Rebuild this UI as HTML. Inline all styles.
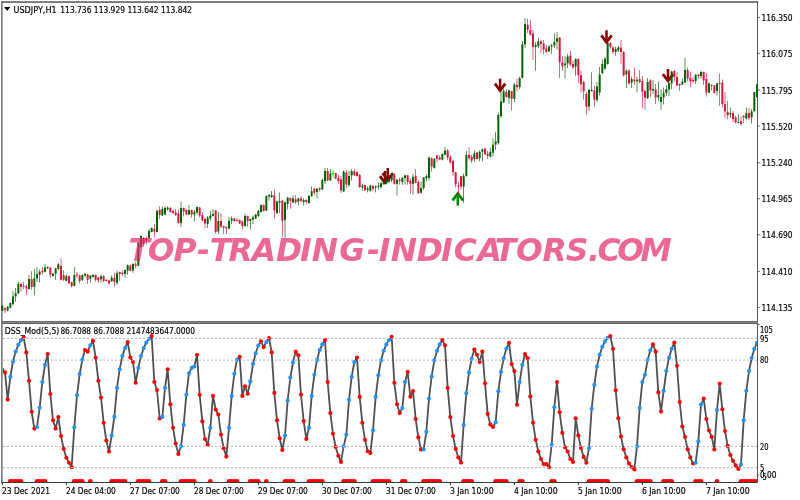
<!DOCTYPE html>
<html><head><meta charset="utf-8"><title>USDJPY,H1 DSS_Mod</title>
<style>
html,body{margin:0;padding:0;background:#fff;}
svg{display:block;}
.lb text{font-family:'DejaVu Sans', 'Liberation Sans', sans-serif;font-size:8.3px;fill:#000;stroke:#000;stroke-width:0.18px;}
.wm text{font-family:'DejaVu Sans',sans-serif;font-weight:bold;font-style:italic;font-size:32.6px;fill:#E12769;fill-opacity:0.7;}
</style></head>
<body>
<svg width="800" height="500" viewBox="0 0 800 500">
<defs>
<clipPath id="mc"><rect x="2" y="3" width="755" height="318"/></clipPath>
<clipPath id="mc2"><rect x="1" y="3" width="757.5" height="318"/></clipPath>
<clipPath id="dc"><circle cx="13.00" cy="361.5" r="2.05"/><circle cx="21.00" cy="340.1" r="2.05"/><circle cx="23.67" cy="337.5" r="2.05"/><circle cx="71.67" cy="467.3" r="2.05"/><circle cx="82.33" cy="359.6" r="2.05"/><circle cx="133.00" cy="362.0" r="2.05"/><circle cx="149.00" cy="338.8" r="2.05"/><circle cx="181.00" cy="446.2" r="2.05"/><circle cx="207.67" cy="444.9" r="2.05"/><circle cx="223.67" cy="448.3" r="2.05"/><circle cx="237.00" cy="359.6" r="2.05"/><circle cx="269.00" cy="338.0" r="2.05"/><circle cx="293.00" cy="362.3" r="2.05"/><circle cx="317.00" cy="359.9" r="2.05"/><circle cx="325.00" cy="339.9" r="2.05"/><circle cx="335.67" cy="447.0" r="2.05"/><circle cx="343.67" cy="446.2" r="2.05"/><circle cx="354.33" cy="362.0" r="2.05"/><circle cx="381.00" cy="360.2" r="2.05"/><circle cx="389.00" cy="339.9" r="2.05"/><circle cx="391.67" cy="336.7" r="2.05"/><circle cx="434.33" cy="360.4" r="2.05"/><circle cx="442.33" cy="340.1" r="2.05"/><circle cx="471.67" cy="358.8" r="2.05"/><circle cx="479.67" cy="362.0" r="2.05"/><circle cx="503.67" cy="358.3" r="2.05"/><circle cx="527.67" cy="358.3" r="2.05"/><circle cx="549.00" cy="467.3" r="2.05"/><circle cx="551.67" cy="444.9" r="2.05"/><circle cx="565.00" cy="447.3" r="2.05"/><circle cx="581.00" cy="448.1" r="2.05"/><circle cx="589.00" cy="448.1" r="2.05"/><circle cx="607.67" cy="337.7" r="2.05"/><circle cx="631.67" cy="467.0" r="2.05"/><circle cx="634.33" cy="469.4" r="2.05"/><circle cx="637.00" cy="446.2" r="2.05"/><circle cx="647.67" cy="359.9" r="2.05"/><circle cx="727.67" cy="445.9" r="2.05"/><circle cx="738.33" cy="468.9" r="2.05"/><circle cx="751.67" cy="358.0" r="2.05"/></clipPath>
<clipPath id="ic"><rect x="3" y="324" width="754" height="158"/></clipPath>
</defs>
<rect x="0" y="0" width="800" height="500" fill="#fff"/>
<rect x="1" y="1" width="757" height="1" fill="#848484"/>
<rect x="1" y="2" width="757" height="1" fill="#7a7a7a"/>
<rect x="1" y="1" width="1" height="482" fill="#7a7a7a"/>
<rect x="2" y="3" width="1" height="479" fill="#ababab"/>
<rect x="1" y="321" width="757" height="1" fill="#666"/>
<rect x="1" y="322" width="757" height="1" fill="#8c8c8c"/>
<rect x="1" y="323" width="757" height="1" fill="#5a5a5a"/>
<rect x="1" y="482" width="757" height="1" fill="#3a3a3a"/>
<rect x="757" y="1" width="1" height="321" fill="#555"/>
<rect x="757" y="323" width="1" height="160" fill="#555"/>
<rect x="758" y="16.9" width="1.6" height="1" fill="#444"/>
<rect x="758" y="52.9" width="1.6" height="1" fill="#444"/>
<rect x="758" y="89.6" width="1.6" height="1" fill="#444"/>
<rect x="758" y="125.6" width="1.6" height="1" fill="#444"/>
<rect x="758" y="162.2" width="1.6" height="1" fill="#444"/>
<rect x="758" y="198.2" width="1.6" height="1" fill="#444"/>
<rect x="758" y="234.2" width="1.6" height="1" fill="#444"/>
<rect x="758" y="270.9" width="1.6" height="1" fill="#444"/>
<rect x="758" y="306.9" width="1.6" height="1" fill="#444"/>
<rect x="758" y="323.9" width="1.5" height="1" fill="#555"/>
<rect x="758" y="474.5" width="1.2" height="1" fill="#666"/>
<rect x="1.83" y="483" width="1" height="2" fill="#222"/>
<rect x="65.83" y="483" width="1" height="2" fill="#222"/>
<rect x="129.83" y="483" width="1" height="2" fill="#222"/>
<rect x="193.83" y="483" width="1" height="2" fill="#222"/>
<rect x="257.83" y="483" width="1" height="2" fill="#222"/>
<rect x="321.83" y="483" width="1" height="2" fill="#222"/>
<rect x="385.83" y="483" width="1" height="2" fill="#222"/>
<rect x="449.83" y="483" width="1" height="2" fill="#222"/>
<rect x="513.83" y="483" width="1" height="2" fill="#222"/>
<rect x="577.83" y="483" width="1" height="2" fill="#222"/>
<rect x="641.83" y="483" width="1" height="2" fill="#222"/>
<rect x="705.83" y="483" width="1" height="2" fill="#222"/>
<path d="M4.1 7.1 L10.3 7.1 L7.2 11.1 Z" fill="#000"/>
<g clip-path="url(#mc)">
<line x1="385.10" y1="171.00" x2="385.10" y2="182.90" stroke="#8B0000" stroke-width="2.5"/>
<polyline points="379.90,176.10 385.10,182.80 390.30,176.10" fill="none" stroke="#8B0000" stroke-width="2.8" stroke-linejoin="miter" stroke-miterlimit="10"/>
<line x1="387.80" y1="168.00" x2="387.80" y2="179.90" stroke="#8B0000" stroke-width="2.5"/>
<polyline points="382.60,173.10 387.80,179.80 393.00,173.10" fill="none" stroke="#8B0000" stroke-width="2.8" stroke-linejoin="miter" stroke-miterlimit="10"/>
<line x1="500.10" y1="78.60" x2="500.10" y2="90.50" stroke="#8B0000" stroke-width="2.5"/>
<polyline points="494.90,83.70 500.10,90.40 505.30,83.70" fill="none" stroke="#8B0000" stroke-width="2.8" stroke-linejoin="miter" stroke-miterlimit="10"/>
<line x1="606.50" y1="30.30" x2="606.50" y2="42.20" stroke="#8B0000" stroke-width="2.5"/>
<polyline points="601.30,35.40 606.50,42.10 611.70,35.40" fill="none" stroke="#8B0000" stroke-width="2.8" stroke-linejoin="miter" stroke-miterlimit="10"/>
<line x1="668.00" y1="69.00" x2="668.00" y2="80.90" stroke="#8B0000" stroke-width="2.5"/>
<polyline points="662.80,74.10 668.00,80.80 673.20,74.10" fill="none" stroke="#8B0000" stroke-width="2.8" stroke-linejoin="miter" stroke-miterlimit="10"/>
<line x1="457.80" y1="193.50" x2="457.80" y2="205.60" stroke="#008800" stroke-width="2.5"/>
<polyline points="452.50,200.50 457.80,193.60 463.10,200.50" fill="none" stroke="#008800" stroke-width="2.8" stroke-linejoin="miter" stroke-miterlimit="10"/>
</g>
<g clip-path="url(#mc2)">
<rect x="2.00" y="304.8" width="0.667" height="6.6" fill="#006400"/>
<rect x="1.33" y="306.0" width="2.0" height="4.8" fill="#006400"/>
<rect x="4.67" y="307.2" width="0.667" height="6.0" fill="#DC143C"/>
<rect x="4.00" y="308.4" width="2.0" height="1.8" fill="#DC143C"/>
<rect x="7.33" y="306.0" width="0.667" height="5.4" fill="#006400"/>
<rect x="6.67" y="306.8" width="2.0" height="3.6" fill="#006400"/>
<rect x="10.00" y="302.4" width="0.667" height="6.0" fill="#006400"/>
<rect x="9.33" y="303.0" width="2.0" height="4.8" fill="#006400"/>
<rect x="12.67" y="291.0" width="0.667" height="14.4" fill="#006400"/>
<rect x="12.00" y="296.4" width="2.0" height="7.8" fill="#006400"/>
<rect x="15.33" y="288.0" width="0.667" height="13.8" fill="#006400"/>
<rect x="14.67" y="293.4" width="2.0" height="3.0" fill="#006400"/>
<rect x="18.00" y="281.4" width="0.667" height="12.6" fill="#006400"/>
<rect x="17.33" y="283.8" width="2.0" height="9.6" fill="#006400"/>
<rect x="20.67" y="282.6" width="0.667" height="9.0" fill="#DC143C"/>
<rect x="20.00" y="283.8" width="2.0" height="3.0" fill="#DC143C"/>
<rect x="23.33" y="282.0" width="0.667" height="7.2" fill="#DC143C"/>
<rect x="22.67" y="285.6" width="2.0" height="1.2" fill="#DC143C"/>
<rect x="26.00" y="284.4" width="0.667" height="10.2" fill="#DC143C"/>
<rect x="25.33" y="286.4" width="2.0" height="2.2" fill="#DC143C"/>
<rect x="28.67" y="274.8" width="0.667" height="14.4" fill="#006400"/>
<rect x="28.00" y="279.0" width="2.0" height="10.2" fill="#006400"/>
<rect x="31.33" y="271.2" width="0.667" height="18.6" fill="#DC143C"/>
<rect x="30.67" y="279.0" width="2.0" height="7.8" fill="#DC143C"/>
<rect x="34.00" y="268.8" width="0.667" height="26.4" fill="#006400"/>
<rect x="33.33" y="278.4" width="2.0" height="8.4" fill="#006400"/>
<rect x="36.67" y="267.0" width="0.667" height="15.0" fill="#006400"/>
<rect x="36.00" y="274.2" width="2.0" height="4.2" fill="#006400"/>
<rect x="39.33" y="269.4" width="0.667" height="13.2" fill="#006400"/>
<rect x="38.67" y="271.8" width="2.0" height="3.0" fill="#006400"/>
<rect x="42.00" y="267.0" width="0.667" height="7.8" fill="#DC143C"/>
<rect x="41.33" y="270.6" width="2.0" height="1.8" fill="#DC143C"/>
<rect x="44.67" y="264.0" width="0.667" height="8.4" fill="#006400"/>
<rect x="44.00" y="267.6" width="2.0" height="4.2" fill="#006400"/>
<rect x="47.33" y="266.4" width="0.667" height="2.4" fill="#006400"/>
<rect x="46.67" y="267.0" width="2.0" height="1.2" fill="#006400"/>
<rect x="50.00" y="267.0" width="0.667" height="10.8" fill="#DC143C"/>
<rect x="49.33" y="267.6" width="2.0" height="7.2" fill="#DC143C"/>
<rect x="52.67" y="273.0" width="0.667" height="3.6" fill="#006400"/>
<rect x="52.00" y="273.6" width="2.0" height="2.4" fill="#006400"/>
<rect x="55.33" y="267.8" width="0.667" height="12.0" fill="#006400"/>
<rect x="54.67" y="268.4" width="2.0" height="5.4" fill="#006400"/>
<rect x="58.00" y="263.0" width="0.667" height="7.2" fill="#006400"/>
<rect x="57.33" y="264.2" width="2.0" height="4.8" fill="#006400"/>
<rect x="60.67" y="258.2" width="0.667" height="22.2" fill="#DC143C"/>
<rect x="60.00" y="266.0" width="2.0" height="13.8" fill="#DC143C"/>
<rect x="63.33" y="270.2" width="0.667" height="10.8" fill="#DC143C"/>
<rect x="62.67" y="275.0" width="2.0" height="4.8" fill="#DC143C"/>
<rect x="66.00" y="274.4" width="0.667" height="7.2" fill="#006400"/>
<rect x="65.33" y="276.2" width="2.0" height="4.8" fill="#006400"/>
<rect x="68.67" y="275.6" width="0.667" height="8.4" fill="#DC143C"/>
<rect x="68.00" y="276.2" width="2.0" height="7.2" fill="#DC143C"/>
<rect x="71.33" y="281.6" width="0.667" height="6.0" fill="#DC143C"/>
<rect x="70.67" y="282.2" width="2.0" height="4.2" fill="#DC143C"/>
<rect x="74.00" y="267.2" width="0.667" height="19.2" fill="#006400"/>
<rect x="73.33" y="275.0" width="2.0" height="10.8" fill="#006400"/>
<rect x="76.67" y="272.0" width="0.667" height="6.0" fill="#DC143C"/>
<rect x="76.00" y="274.4" width="2.0" height="1.2" fill="#DC143C"/>
<rect x="79.33" y="274.4" width="0.667" height="9.0" fill="#DC143C"/>
<rect x="78.67" y="275.6" width="2.0" height="5.4" fill="#DC143C"/>
<rect x="82.00" y="274.4" width="0.667" height="6.6" fill="#006400"/>
<rect x="81.33" y="275.0" width="2.0" height="4.8" fill="#006400"/>
<rect x="84.67" y="273.2" width="0.667" height="4.2" fill="#006400"/>
<rect x="84.00" y="273.8" width="2.0" height="1.8" fill="#006400"/>
<rect x="87.33" y="273.8" width="0.667" height="10.2" fill="#DC143C"/>
<rect x="86.67" y="274.4" width="2.0" height="5.4" fill="#DC143C"/>
<rect x="90.00" y="275.0" width="0.667" height="7.8" fill="#006400"/>
<rect x="89.33" y="275.6" width="2.0" height="3.0" fill="#006400"/>
<rect x="92.67" y="273.8" width="0.667" height="4.2" fill="#006400"/>
<rect x="92.00" y="275.0" width="2.0" height="1.8" fill="#006400"/>
<rect x="95.33" y="274.4" width="0.667" height="7.2" fill="#DC143C"/>
<rect x="94.67" y="275.0" width="2.0" height="4.8" fill="#DC143C"/>
<rect x="98.00" y="276.8" width="0.667" height="6.0" fill="#DC143C"/>
<rect x="97.33" y="277.4" width="2.0" height="3.0" fill="#DC143C"/>
<rect x="100.67" y="274.4" width="0.667" height="8.4" fill="#006400"/>
<rect x="100.00" y="276.2" width="2.0" height="3.0" fill="#006400"/>
<rect x="103.33" y="275.0" width="0.667" height="7.2" fill="#DC143C"/>
<rect x="102.67" y="276.2" width="2.0" height="4.8" fill="#DC143C"/>
<rect x="106.00" y="279.2" width="0.667" height="2.4" fill="#DC143C"/>
<rect x="105.33" y="279.8" width="2.0" height="1.2" fill="#DC143C"/>
<rect x="108.67" y="279.8" width="0.667" height="4.8" fill="#DC143C"/>
<rect x="108.00" y="280.4" width="2.0" height="3.0" fill="#DC143C"/>
<rect x="111.33" y="275.6" width="0.667" height="6.4" fill="#006400"/>
<rect x="110.67" y="277.5" width="2.0" height="3.8" fill="#006400"/>
<rect x="114.00" y="273.2" width="0.667" height="13.6" fill="#DC143C"/>
<rect x="113.33" y="278.0" width="2.0" height="4.0" fill="#DC143C"/>
<rect x="116.67" y="270.4" width="0.667" height="14.4" fill="#006400"/>
<rect x="116.00" y="273.2" width="2.0" height="9.6" fill="#006400"/>
<rect x="119.33" y="271.6" width="0.667" height="9.2" fill="#DC143C"/>
<rect x="118.67" y="272.0" width="2.0" height="2.0" fill="#DC143C"/>
<rect x="122.00" y="270.4" width="0.667" height="5.6" fill="#DC143C"/>
<rect x="121.33" y="272.8" width="2.0" height="1.2" fill="#DC143C"/>
<rect x="124.67" y="269.6" width="0.667" height="8.0" fill="#006400"/>
<rect x="124.00" y="270.0" width="2.0" height="4.0" fill="#006400"/>
<rect x="127.33" y="264.4" width="0.667" height="10.4" fill="#006400"/>
<rect x="126.67" y="265.2" width="2.0" height="5.6" fill="#006400"/>
<rect x="130.00" y="264.4" width="0.667" height="6.8" fill="#DC143C"/>
<rect x="129.33" y="265.6" width="2.0" height="5.2" fill="#DC143C"/>
<rect x="132.67" y="262.8" width="0.667" height="10.0" fill="#006400"/>
<rect x="132.00" y="264.0" width="2.0" height="6.4" fill="#006400"/>
<rect x="135.33" y="262.0" width="0.667" height="6.0" fill="#DC143C"/>
<rect x="134.67" y="264.4" width="2.0" height="1.6" fill="#DC143C"/>
<rect x="138.00" y="242.4" width="0.667" height="24.0" fill="#006400"/>
<rect x="137.33" y="243.0" width="2.0" height="22.6" fill="#006400"/>
<rect x="140.67" y="235.2" width="0.667" height="12.0" fill="#006400"/>
<rect x="140.00" y="236.0" width="2.0" height="11.0" fill="#006400"/>
<rect x="143.33" y="237.0" width="0.667" height="9.4" fill="#DC143C"/>
<rect x="142.67" y="238.0" width="2.0" height="6.0" fill="#DC143C"/>
<rect x="146.00" y="236.5" width="0.667" height="8.0" fill="#DC143C"/>
<rect x="145.33" y="238.0" width="2.0" height="2.0" fill="#DC143C"/>
<rect x="148.67" y="229.0" width="0.667" height="9.5" fill="#006400"/>
<rect x="148.00" y="231.0" width="2.0" height="7.0" fill="#006400"/>
<rect x="151.33" y="227.5" width="0.667" height="5.0" fill="#006400"/>
<rect x="150.67" y="228.0" width="2.0" height="4.0" fill="#006400"/>
<rect x="154.00" y="224.0" width="0.667" height="13.5" fill="#DC143C"/>
<rect x="153.33" y="229.0" width="2.0" height="2.5" fill="#DC143C"/>
<rect x="156.67" y="209.0" width="0.667" height="23.5" fill="#006400"/>
<rect x="156.00" y="211.0" width="2.0" height="21.0" fill="#006400"/>
<rect x="159.33" y="206.5" width="0.667" height="12.5" fill="#DC143C"/>
<rect x="158.67" y="210.0" width="2.0" height="5.0" fill="#DC143C"/>
<rect x="162.00" y="206.5" width="0.667" height="9.5" fill="#006400"/>
<rect x="161.33" y="209.0" width="2.0" height="6.5" fill="#006400"/>
<rect x="164.67" y="206.0" width="0.667" height="9.0" fill="#006400"/>
<rect x="164.00" y="208.0" width="2.0" height="6.5" fill="#006400"/>
<rect x="167.33" y="206.5" width="0.667" height="4.0" fill="#006400"/>
<rect x="166.67" y="207.5" width="2.0" height="2.0" fill="#006400"/>
<rect x="170.00" y="207.0" width="0.667" height="5.5" fill="#DC143C"/>
<rect x="169.33" y="208.0" width="2.0" height="4.0" fill="#DC143C"/>
<rect x="172.67" y="209.5" width="0.667" height="4.5" fill="#DC143C"/>
<rect x="172.00" y="211.0" width="2.0" height="2.0" fill="#DC143C"/>
<rect x="175.33" y="209.0" width="0.667" height="7.0" fill="#DC143C"/>
<rect x="174.67" y="212.5" width="2.0" height="2.5" fill="#DC143C"/>
<rect x="178.00" y="209.5" width="0.667" height="14.0" fill="#DC143C"/>
<rect x="177.33" y="213.5" width="2.0" height="9.5" fill="#DC143C"/>
<rect x="180.67" y="201.5" width="0.667" height="25.5" fill="#006400"/>
<rect x="180.00" y="208.0" width="2.0" height="15.0" fill="#006400"/>
<rect x="183.33" y="207.5" width="0.667" height="9.0" fill="#DC143C"/>
<rect x="182.67" y="208.0" width="2.0" height="3.5" fill="#DC143C"/>
<rect x="186.00" y="209.0" width="0.667" height="6.0" fill="#DC143C"/>
<rect x="185.33" y="210.0" width="2.0" height="4.5" fill="#DC143C"/>
<rect x="188.67" y="205.0" width="0.667" height="10.0" fill="#006400"/>
<rect x="188.00" y="210.0" width="2.0" height="4.5" fill="#006400"/>
<rect x="191.33" y="209.5" width="0.667" height="8.0" fill="#DC143C"/>
<rect x="190.67" y="210.0" width="2.0" height="4.5" fill="#DC143C"/>
<rect x="194.00" y="210.0" width="0.667" height="11.5" fill="#006400"/>
<rect x="193.33" y="212.0" width="2.0" height="2.5" fill="#006400"/>
<rect x="196.67" y="206.5" width="0.667" height="8.0" fill="#006400"/>
<rect x="196.00" y="207.0" width="2.0" height="5.5" fill="#006400"/>
<rect x="199.33" y="207.0" width="0.667" height="10.5" fill="#DC143C"/>
<rect x="198.67" y="207.5" width="2.0" height="8.0" fill="#DC143C"/>
<rect x="202.00" y="212.0" width="0.667" height="9.0" fill="#DC143C"/>
<rect x="201.33" y="215.0" width="2.0" height="5.5" fill="#DC143C"/>
<rect x="204.67" y="218.0" width="0.667" height="10.5" fill="#DC143C"/>
<rect x="204.00" y="219.0" width="2.0" height="4.5" fill="#DC143C"/>
<rect x="207.33" y="216.0" width="0.667" height="12.0" fill="#006400"/>
<rect x="206.67" y="217.5" width="2.0" height="6.5" fill="#006400"/>
<rect x="210.00" y="211.0" width="0.667" height="9.5" fill="#006400"/>
<rect x="209.33" y="215.5" width="2.0" height="3.0" fill="#006400"/>
<rect x="212.67" y="209.0" width="0.667" height="7.5" fill="#006400"/>
<rect x="212.00" y="214.0" width="2.0" height="2.0" fill="#006400"/>
<rect x="215.33" y="210.0" width="0.667" height="23.5" fill="#DC143C"/>
<rect x="214.67" y="210.5" width="2.0" height="21.5" fill="#DC143C"/>
<rect x="218.00" y="212.0" width="0.667" height="22.0" fill="#006400"/>
<rect x="217.33" y="221.0" width="2.0" height="10.5" fill="#006400"/>
<rect x="220.67" y="213.5" width="0.667" height="15.0" fill="#DC143C"/>
<rect x="220.00" y="221.0" width="2.0" height="5.5" fill="#DC143C"/>
<rect x="223.33" y="225.5" width="0.667" height="8.5" fill="#DC143C"/>
<rect x="222.67" y="226.0" width="2.0" height="1.5" fill="#DC143C"/>
<rect x="226.00" y="226.5" width="0.667" height="7.5" fill="#DC143C"/>
<rect x="225.33" y="227.0" width="2.0" height="1.5" fill="#DC143C"/>
<rect x="228.67" y="217.0" width="0.667" height="12.0" fill="#006400"/>
<rect x="228.00" y="221.0" width="2.0" height="7.5" fill="#006400"/>
<rect x="231.33" y="216.5" width="0.667" height="7.5" fill="#006400"/>
<rect x="230.67" y="218.5" width="2.0" height="2.0" fill="#006400"/>
<rect x="234.00" y="218.0" width="0.667" height="3.5" fill="#DC143C"/>
<rect x="233.33" y="218.5" width="2.0" height="2.5" fill="#DC143C"/>
<rect x="236.67" y="218.0" width="0.667" height="3.5" fill="#DC143C"/>
<rect x="236.00" y="220.0" width="2.0" height="1.0" fill="#DC143C"/>
<rect x="239.33" y="219.5" width="0.667" height="4.5" fill="#DC143C"/>
<rect x="238.67" y="220.0" width="2.0" height="3.5" fill="#DC143C"/>
<rect x="242.00" y="220.5" width="0.667" height="9.0" fill="#DC143C"/>
<rect x="241.33" y="221.5" width="2.0" height="4.5" fill="#DC143C"/>
<rect x="244.67" y="213.5" width="0.667" height="13.0" fill="#006400"/>
<rect x="244.00" y="216.0" width="2.0" height="10.0" fill="#006400"/>
<rect x="247.33" y="215.5" width="0.667" height="11.0" fill="#DC143C"/>
<rect x="246.67" y="216.0" width="2.0" height="5.0" fill="#DC143C"/>
<rect x="250.00" y="218.5" width="0.667" height="11.0" fill="#006400"/>
<rect x="249.33" y="219.0" width="2.0" height="2.0" fill="#006400"/>
<rect x="252.67" y="215.5" width="0.667" height="8.5" fill="#006400"/>
<rect x="252.00" y="217.5" width="2.0" height="2.0" fill="#006400"/>
<rect x="255.33" y="214.0" width="0.667" height="5.0" fill="#006400"/>
<rect x="254.67" y="214.5" width="2.0" height="4.0" fill="#006400"/>
<rect x="258.00" y="209.5" width="0.667" height="7.5" fill="#006400"/>
<rect x="257.33" y="211.0" width="2.0" height="5.0" fill="#006400"/>
<rect x="260.67" y="204.5" width="0.667" height="8.0" fill="#006400"/>
<rect x="260.00" y="205.0" width="2.0" height="7.0" fill="#006400"/>
<rect x="263.33" y="204.5" width="0.667" height="7.0" fill="#DC143C"/>
<rect x="262.67" y="205.0" width="2.0" height="6.0" fill="#DC143C"/>
<rect x="266.00" y="195.5" width="0.667" height="15.5" fill="#006400"/>
<rect x="265.33" y="196.0" width="2.0" height="14.5" fill="#006400"/>
<rect x="268.67" y="194.0" width="0.667" height="6.5" fill="#006400"/>
<rect x="268.00" y="195.0" width="2.0" height="1.5" fill="#006400"/>
<rect x="271.33" y="191.0" width="0.667" height="7.0" fill="#006400"/>
<rect x="270.67" y="195.0" width="2.0" height="2.0" fill="#006400"/>
<rect x="274.00" y="189.5" width="0.667" height="29.0" fill="#DC143C"/>
<rect x="273.33" y="195.5" width="2.0" height="15.0" fill="#DC143C"/>
<rect x="276.67" y="200.5" width="0.667" height="13.5" fill="#006400"/>
<rect x="276.00" y="201.5" width="2.0" height="11.5" fill="#006400"/>
<rect x="279.33" y="192.5" width="0.667" height="20.5" fill="#006400"/>
<rect x="278.67" y="201.0" width="2.0" height="1.5" fill="#006400"/>
<rect x="282.00" y="200.0" width="0.667" height="36.8" fill="#DC143C"/>
<rect x="281.33" y="200.8" width="2.0" height="20.0" fill="#DC143C"/>
<rect x="284.67" y="201.6" width="0.667" height="36.4" fill="#006400"/>
<rect x="284.00" y="202.4" width="2.0" height="17.6" fill="#006400"/>
<rect x="287.33" y="196.8" width="0.667" height="12.8" fill="#006400"/>
<rect x="286.67" y="197.6" width="2.0" height="6.4" fill="#006400"/>
<rect x="290.00" y="197.6" width="0.667" height="11.2" fill="#DC143C"/>
<rect x="289.33" y="198.0" width="2.0" height="2.8" fill="#DC143C"/>
<rect x="292.67" y="195.2" width="0.667" height="8.0" fill="#006400"/>
<rect x="292.00" y="198.4" width="2.0" height="4.0" fill="#006400"/>
<rect x="295.33" y="195.2" width="0.667" height="8.8" fill="#DC143C"/>
<rect x="294.67" y="199.2" width="2.0" height="3.2" fill="#DC143C"/>
<rect x="298.00" y="197.6" width="0.667" height="8.0" fill="#006400"/>
<rect x="297.33" y="198.4" width="2.0" height="3.2" fill="#006400"/>
<rect x="300.67" y="196.0" width="0.667" height="6.4" fill="#DC143C"/>
<rect x="300.00" y="198.4" width="2.0" height="2.4" fill="#DC143C"/>
<rect x="303.33" y="198.4" width="0.667" height="7.2" fill="#006400"/>
<rect x="302.67" y="200.0" width="2.0" height="2.0" fill="#006400"/>
<rect x="306.00" y="199.2" width="0.667" height="4.8" fill="#DC143C"/>
<rect x="305.33" y="200.0" width="2.0" height="2.0" fill="#DC143C"/>
<rect x="308.67" y="195.0" width="0.667" height="8.2" fill="#006400"/>
<rect x="308.00" y="196.0" width="2.0" height="7.2" fill="#006400"/>
<rect x="311.33" y="186.4" width="0.667" height="10.4" fill="#006400"/>
<rect x="310.67" y="191.2" width="2.0" height="4.8" fill="#006400"/>
<rect x="314.00" y="188.0" width="0.667" height="7.2" fill="#DC143C"/>
<rect x="313.33" y="188.8" width="2.0" height="4.0" fill="#DC143C"/>
<rect x="316.67" y="188.0" width="0.667" height="10.5" fill="#006400"/>
<rect x="316.00" y="189.0" width="2.0" height="3.0" fill="#006400"/>
<rect x="319.33" y="187.5" width="0.667" height="4.0" fill="#DC143C"/>
<rect x="318.67" y="188.0" width="2.0" height="1.5" fill="#DC143C"/>
<rect x="322.00" y="178.5" width="0.667" height="11.5" fill="#006400"/>
<rect x="321.33" y="180.0" width="2.0" height="9.5" fill="#006400"/>
<rect x="324.67" y="168.0" width="0.667" height="16.0" fill="#006400"/>
<rect x="324.00" y="171.0" width="2.0" height="10.0" fill="#006400"/>
<rect x="327.33" y="168.0" width="0.667" height="13.0" fill="#DC143C"/>
<rect x="326.67" y="171.0" width="2.0" height="9.5" fill="#DC143C"/>
<rect x="330.00" y="169.0" width="0.667" height="12.0" fill="#006400"/>
<rect x="329.33" y="173.5" width="2.0" height="7.0" fill="#006400"/>
<rect x="332.67" y="169.5" width="0.667" height="9.0" fill="#00FF00"/>
<rect x="332.00" y="172.6" width="2.0" height="1.8" fill="#00FF00"/>
<rect x="335.33" y="173.0" width="0.667" height="6.0" fill="#DC143C"/>
<rect x="334.67" y="173.0" width="2.0" height="5.5" fill="#DC143C"/>
<rect x="338.00" y="174.5" width="0.667" height="9.0" fill="#DC143C"/>
<rect x="337.33" y="178.0" width="2.0" height="3.0" fill="#DC143C"/>
<rect x="340.67" y="176.0" width="0.667" height="17.0" fill="#DC143C"/>
<rect x="340.00" y="179.5" width="2.0" height="11.0" fill="#DC143C"/>
<rect x="343.33" y="170.5" width="0.667" height="21.5" fill="#006400"/>
<rect x="342.67" y="171.5" width="2.0" height="20.0" fill="#006400"/>
<rect x="346.00" y="170.0" width="0.667" height="18.0" fill="#DC143C"/>
<rect x="345.33" y="172.5" width="2.0" height="12.0" fill="#DC143C"/>
<rect x="348.67" y="170.5" width="0.667" height="16.5" fill="#006400"/>
<rect x="348.00" y="176.0" width="2.0" height="9.0" fill="#006400"/>
<rect x="351.33" y="169.0" width="0.667" height="11.5" fill="#006400"/>
<rect x="350.67" y="171.0" width="2.0" height="4.5" fill="#006400"/>
<rect x="354.00" y="169.2" width="0.667" height="6.8" fill="#DC143C"/>
<rect x="353.33" y="171.2" width="2.0" height="4.0" fill="#DC143C"/>
<rect x="356.67" y="171.6" width="0.667" height="5.2" fill="#DC143C"/>
<rect x="356.00" y="172.0" width="2.0" height="4.0" fill="#DC143C"/>
<rect x="359.33" y="174.0" width="0.667" height="13.6" fill="#DC143C"/>
<rect x="358.67" y="174.8" width="2.0" height="12.4" fill="#DC143C"/>
<rect x="362.00" y="183.6" width="0.667" height="7.2" fill="#006400"/>
<rect x="361.33" y="185.6" width="2.0" height="2.0" fill="#006400"/>
<rect x="364.67" y="184.8" width="0.667" height="5.6" fill="#DC143C"/>
<rect x="364.00" y="185.0" width="2.0" height="5.4" fill="#DC143C"/>
<rect x="367.33" y="186.4" width="0.667" height="6.0" fill="#006400"/>
<rect x="366.67" y="188.4" width="2.0" height="1.6" fill="#006400"/>
<rect x="370.00" y="184.8" width="0.667" height="6.8" fill="#006400"/>
<rect x="369.33" y="185.6" width="2.0" height="5.2" fill="#006400"/>
<rect x="372.67" y="185.2" width="0.667" height="6.0" fill="#DC143C"/>
<rect x="372.00" y="186.0" width="2.0" height="2.8" fill="#DC143C"/>
<rect x="375.33" y="185.6" width="0.667" height="6.8" fill="#006400"/>
<rect x="374.67" y="186.4" width="2.0" height="1.2" fill="#006400"/>
<rect x="378.00" y="182.4" width="0.667" height="7.2" fill="#006400"/>
<rect x="377.33" y="185.6" width="2.0" height="1.2" fill="#006400"/>
<rect x="380.67" y="181.6" width="0.667" height="6.8" fill="#006400"/>
<rect x="380.00" y="183.2" width="2.0" height="4.0" fill="#006400"/>
<rect x="383.33" y="178.4" width="0.667" height="6.4" fill="#006400"/>
<rect x="382.67" y="182.4" width="2.0" height="1.6" fill="#006400"/>
<rect x="386.00" y="179.0" width="0.667" height="5.0" fill="#006400"/>
<rect x="385.33" y="180.4" width="2.0" height="2.8" fill="#006400"/>
<rect x="388.67" y="178.5" width="0.667" height="4.5" fill="#006400"/>
<rect x="388.00" y="180.0" width="2.0" height="1.6" fill="#006400"/>
<rect x="391.33" y="173.0" width="0.667" height="9.0" fill="#006400"/>
<rect x="390.67" y="174.4" width="2.0" height="6.0" fill="#006400"/>
<rect x="394.00" y="173.5" width="0.667" height="11.2" fill="#DC143C"/>
<rect x="393.33" y="174.4" width="2.0" height="9.4" fill="#DC143C"/>
<rect x="396.67" y="178.9" width="0.667" height="16.6" fill="#006400"/>
<rect x="396.00" y="179.8" width="2.0" height="4.0" fill="#006400"/>
<rect x="399.33" y="178.0" width="0.667" height="6.7" fill="#DC143C"/>
<rect x="398.67" y="179.8" width="2.0" height="1.3" fill="#DC143C"/>
<rect x="402.00" y="177.0" width="0.667" height="7.7" fill="#006400"/>
<rect x="401.33" y="178.0" width="2.0" height="4.0" fill="#006400"/>
<rect x="404.67" y="174.8" width="0.667" height="9.9" fill="#006400"/>
<rect x="404.00" y="175.3" width="2.0" height="2.7" fill="#006400"/>
<rect x="407.33" y="174.8" width="0.667" height="9.9" fill="#DC143C"/>
<rect x="406.67" y="175.3" width="2.0" height="6.7" fill="#DC143C"/>
<rect x="410.00" y="178.4" width="0.667" height="15.3" fill="#DC143C"/>
<rect x="409.33" y="180.7" width="2.0" height="3.1" fill="#DC143C"/>
<rect x="412.67" y="173.9" width="0.667" height="20.7" fill="#006400"/>
<rect x="412.00" y="177.0" width="2.0" height="6.8" fill="#006400"/>
<rect x="415.33" y="169.0" width="0.667" height="14.4" fill="#DC143C"/>
<rect x="414.67" y="175.7" width="2.0" height="7.2" fill="#DC143C"/>
<rect x="418.00" y="180.2" width="0.667" height="13.5" fill="#DC143C"/>
<rect x="417.33" y="182.0" width="2.0" height="11.3" fill="#DC143C"/>
<rect x="420.67" y="181.6" width="0.667" height="11.7" fill="#006400"/>
<rect x="420.00" y="187.9" width="2.0" height="4.9" fill="#006400"/>
<rect x="423.33" y="177.0" width="0.667" height="13.1" fill="#006400"/>
<rect x="422.67" y="177.5" width="2.0" height="10.4" fill="#006400"/>
<rect x="426.00" y="173.9" width="0.667" height="7.2" fill="#006400"/>
<rect x="425.33" y="176.2" width="2.0" height="2.2" fill="#006400"/>
<rect x="428.67" y="156.1" width="0.667" height="24.5" fill="#006400"/>
<rect x="428.00" y="157.7" width="2.0" height="20.3" fill="#006400"/>
<rect x="431.33" y="157.5" width="0.667" height="14.0" fill="#DC143C"/>
<rect x="430.67" y="158.2" width="2.0" height="8.4" fill="#DC143C"/>
<rect x="434.00" y="158.2" width="0.667" height="10.5" fill="#006400"/>
<rect x="433.33" y="158.9" width="2.0" height="9.1" fill="#006400"/>
<rect x="436.67" y="154.7" width="0.667" height="7.7" fill="#DC143C"/>
<rect x="436.00" y="155.4" width="2.0" height="3.5" fill="#DC143C"/>
<rect x="439.33" y="155.4" width="0.667" height="4.9" fill="#DC143C"/>
<rect x="438.67" y="157.5" width="2.0" height="2.1" fill="#DC143C"/>
<rect x="442.00" y="153.3" width="0.667" height="7.0" fill="#006400"/>
<rect x="441.33" y="154.0" width="2.0" height="5.6" fill="#006400"/>
<rect x="444.67" y="147.0" width="0.667" height="8.4" fill="#006400"/>
<rect x="444.00" y="150.5" width="2.0" height="4.2" fill="#006400"/>
<rect x="447.33" y="149.1" width="0.667" height="11.2" fill="#DC143C"/>
<rect x="446.67" y="150.5" width="2.0" height="7.0" fill="#DC143C"/>
<rect x="450.00" y="155.4" width="0.667" height="8.4" fill="#DC143C"/>
<rect x="449.33" y="156.8" width="2.0" height="5.6" fill="#DC143C"/>
<rect x="452.67" y="159.6" width="0.667" height="16.2" fill="#DC143C"/>
<rect x="452.00" y="161.0" width="2.0" height="11.2" fill="#DC143C"/>
<rect x="455.33" y="171.8" width="0.667" height="15.7" fill="#DC143C"/>
<rect x="454.67" y="172.2" width="2.0" height="12.2" fill="#DC143C"/>
<rect x="458.00" y="182.1" width="0.667" height="12.6" fill="#DC143C"/>
<rect x="457.33" y="185.3" width="2.0" height="1.3" fill="#DC143C"/>
<rect x="460.67" y="175.8" width="0.667" height="13.5" fill="#DC143C"/>
<rect x="460.00" y="176.3" width="2.0" height="10.3" fill="#DC143C"/>
<rect x="463.33" y="173.6" width="0.667" height="29.2" fill="#006400"/>
<rect x="462.67" y="175.8" width="2.0" height="10.8" fill="#006400"/>
<rect x="466.00" y="151.0" width="0.667" height="25.7" fill="#006400"/>
<rect x="465.33" y="155.0" width="2.0" height="21.0" fill="#006400"/>
<rect x="468.67" y="147.0" width="0.667" height="13.6" fill="#DC143C"/>
<rect x="468.00" y="155.0" width="2.0" height="3.2" fill="#DC143C"/>
<rect x="471.33" y="155.0" width="0.667" height="8.0" fill="#DC143C"/>
<rect x="470.67" y="156.6" width="2.0" height="4.0" fill="#DC143C"/>
<rect x="474.00" y="150.2" width="0.667" height="12.0" fill="#006400"/>
<rect x="473.33" y="153.4" width="2.0" height="5.6" fill="#006400"/>
<rect x="476.67" y="152.0" width="0.667" height="7.5" fill="#DC143C"/>
<rect x="476.00" y="152.6" width="2.0" height="6.4" fill="#DC143C"/>
<rect x="479.33" y="150.2" width="0.667" height="11.2" fill="#006400"/>
<rect x="478.67" y="151.8" width="2.0" height="6.4" fill="#006400"/>
<rect x="482.00" y="148.6" width="0.667" height="12.8" fill="#006400"/>
<rect x="481.33" y="149.4" width="2.0" height="2.4" fill="#006400"/>
<rect x="484.67" y="148.0" width="0.667" height="7.0" fill="#DC143C"/>
<rect x="484.00" y="148.6" width="2.0" height="5.6" fill="#DC143C"/>
<rect x="487.33" y="151.0" width="0.667" height="8.0" fill="#DC143C"/>
<rect x="486.67" y="153.4" width="2.0" height="2.4" fill="#DC143C"/>
<rect x="490.00" y="147.8" width="0.667" height="9.6" fill="#006400"/>
<rect x="489.33" y="151.8" width="2.0" height="4.8" fill="#006400"/>
<rect x="492.67" y="138.2" width="0.667" height="18.4" fill="#006400"/>
<rect x="492.00" y="144.6" width="2.0" height="8.0" fill="#006400"/>
<rect x="495.33" y="131.8" width="0.667" height="18.4" fill="#006400"/>
<rect x="494.67" y="141.4" width="2.0" height="3.2" fill="#006400"/>
<rect x="498.00" y="112.6" width="0.667" height="32.0" fill="#006400"/>
<rect x="497.33" y="115.0" width="2.0" height="28.0" fill="#006400"/>
<rect x="500.67" y="90.3" width="0.667" height="27.7" fill="#006400"/>
<rect x="500.00" y="101.5" width="2.0" height="14.5" fill="#006400"/>
<rect x="503.33" y="88.5" width="0.667" height="14.4" fill="#006400"/>
<rect x="502.67" y="91.2" width="2.0" height="11.2" fill="#006400"/>
<rect x="506.00" y="89.4" width="0.667" height="8.1" fill="#DC143C"/>
<rect x="505.33" y="92.0" width="2.0" height="5.0" fill="#DC143C"/>
<rect x="508.67" y="89.8" width="0.667" height="14.0" fill="#006400"/>
<rect x="508.00" y="90.3" width="2.0" height="7.6" fill="#006400"/>
<rect x="511.33" y="90.7" width="0.667" height="19.8" fill="#DC143C"/>
<rect x="510.67" y="91.2" width="2.0" height="7.6" fill="#DC143C"/>
<rect x="514.00" y="83.1" width="0.667" height="18.9" fill="#006400"/>
<rect x="513.33" y="84.4" width="2.0" height="14.4" fill="#006400"/>
<rect x="516.67" y="78.6" width="0.667" height="13.0" fill="#DC143C"/>
<rect x="516.00" y="84.9" width="2.0" height="2.2" fill="#DC143C"/>
<rect x="519.33" y="76.8" width="0.667" height="12.6" fill="#006400"/>
<rect x="518.67" y="78.1" width="2.0" height="9.0" fill="#006400"/>
<rect x="522.00" y="40.8" width="0.667" height="37.3" fill="#006400"/>
<rect x="521.33" y="44.4" width="2.0" height="33.7" fill="#006400"/>
<rect x="524.67" y="18.0" width="0.667" height="30.0" fill="#006400"/>
<rect x="524.00" y="24.0" width="2.0" height="20.4" fill="#006400"/>
<rect x="527.33" y="18.6" width="0.667" height="14.4" fill="#DC143C"/>
<rect x="526.67" y="24.6" width="2.0" height="5.4" fill="#DC143C"/>
<rect x="530.00" y="19.8" width="0.667" height="15.6" fill="#DC143C"/>
<rect x="529.33" y="30.0" width="2.0" height="4.8" fill="#DC143C"/>
<rect x="532.67" y="30.0" width="0.667" height="30.0" fill="#DC143C"/>
<rect x="532.00" y="33.6" width="2.0" height="13.2" fill="#DC143C"/>
<rect x="535.33" y="42.0" width="0.667" height="28.8" fill="#006400"/>
<rect x="534.67" y="45.0" width="2.0" height="1.8" fill="#006400"/>
<rect x="538.00" y="37.8" width="0.667" height="10.2" fill="#006400"/>
<rect x="537.33" y="41.4" width="2.0" height="4.8" fill="#006400"/>
<rect x="540.67" y="40.0" width="0.667" height="13.2" fill="#DC143C"/>
<rect x="540.00" y="41.5" width="2.0" height="2.5" fill="#DC143C"/>
<rect x="543.33" y="40.0" width="0.667" height="14.4" fill="#DC143C"/>
<rect x="542.67" y="43.6" width="2.0" height="6.0" fill="#DC143C"/>
<rect x="546.00" y="44.8" width="0.667" height="8.4" fill="#DC143C"/>
<rect x="545.33" y="48.4" width="2.0" height="3.6" fill="#DC143C"/>
<rect x="548.67" y="44.8" width="0.667" height="7.2" fill="#006400"/>
<rect x="548.00" y="46.6" width="2.0" height="4.8" fill="#006400"/>
<rect x="551.33" y="43.6" width="0.667" height="10.2" fill="#006400"/>
<rect x="550.67" y="45.4" width="2.0" height="1.2" fill="#006400"/>
<rect x="554.00" y="33.4" width="0.667" height="14.4" fill="#006400"/>
<rect x="553.33" y="41.8" width="2.0" height="3.6" fill="#006400"/>
<rect x="556.67" y="32.2" width="0.667" height="17.4" fill="#006400"/>
<rect x="556.00" y="38.2" width="2.0" height="3.6" fill="#006400"/>
<rect x="559.33" y="37.0" width="0.667" height="40.8" fill="#DC143C"/>
<rect x="558.67" y="37.6" width="2.0" height="24.6" fill="#DC143C"/>
<rect x="562.00" y="56.2" width="0.667" height="14.4" fill="#DC143C"/>
<rect x="561.33" y="62.2" width="2.0" height="4.2" fill="#DC143C"/>
<rect x="564.67" y="56.2" width="0.667" height="22.2" fill="#006400"/>
<rect x="564.00" y="63.4" width="2.0" height="1.8" fill="#006400"/>
<rect x="567.33" y="53.8" width="0.667" height="14.4" fill="#006400"/>
<rect x="566.67" y="56.5" width="2.0" height="6.9" fill="#006400"/>
<rect x="570.00" y="50.6" width="0.667" height="15.4" fill="#DC143C"/>
<rect x="569.33" y="55.5" width="2.0" height="9.1" fill="#DC143C"/>
<rect x="572.67" y="60.4" width="0.667" height="8.4" fill="#DC143C"/>
<rect x="572.00" y="63.9" width="2.0" height="3.5" fill="#DC143C"/>
<rect x="575.33" y="58.3" width="0.667" height="17.5" fill="#006400"/>
<rect x="574.67" y="59.0" width="2.0" height="7.7" fill="#006400"/>
<rect x="578.00" y="58.3" width="0.667" height="24.5" fill="#DC143C"/>
<rect x="577.33" y="59.0" width="2.0" height="16.1" fill="#DC143C"/>
<rect x="580.67" y="70.2" width="0.667" height="22.4" fill="#DC143C"/>
<rect x="580.00" y="75.1" width="2.0" height="9.1" fill="#DC143C"/>
<rect x="583.33" y="80.7" width="0.667" height="18.9" fill="#DC143C"/>
<rect x="582.67" y="82.1" width="2.0" height="9.1" fill="#DC143C"/>
<rect x="586.00" y="91.9" width="0.667" height="23.1" fill="#DC143C"/>
<rect x="585.33" y="94.0" width="2.0" height="12.6" fill="#DC143C"/>
<rect x="588.67" y="89.1" width="0.667" height="21.7" fill="#006400"/>
<rect x="588.00" y="89.8" width="2.0" height="16.8" fill="#006400"/>
<rect x="591.33" y="72.3" width="0.667" height="18.9" fill="#006400"/>
<rect x="590.67" y="89.8" width="2.0" height="1.4" fill="#006400"/>
<rect x="594.00" y="85.6" width="0.667" height="21.0" fill="#DC143C"/>
<rect x="593.33" y="90.5" width="2.0" height="9.1" fill="#DC143C"/>
<rect x="596.67" y="82.0" width="0.667" height="20.0" fill="#006400"/>
<rect x="596.00" y="86.5" width="2.0" height="13.5" fill="#006400"/>
<rect x="599.33" y="67.0" width="0.667" height="28.5" fill="#006400"/>
<rect x="598.67" y="74.5" width="2.0" height="18.0" fill="#006400"/>
<rect x="602.00" y="59.5" width="0.667" height="15.0" fill="#006400"/>
<rect x="601.33" y="64.0" width="2.0" height="9.0" fill="#006400"/>
<rect x="604.67" y="57.0" width="0.667" height="13.0" fill="#006400"/>
<rect x="604.00" y="58.7" width="2.0" height="9.8" fill="#006400"/>
<rect x="607.33" y="40.7" width="0.667" height="24.0" fill="#006400"/>
<rect x="606.67" y="43.0" width="2.0" height="21.0" fill="#006400"/>
<rect x="610.00" y="42.2" width="0.667" height="6.8" fill="#DC143C"/>
<rect x="609.33" y="43.0" width="2.0" height="3.7" fill="#DC143C"/>
<rect x="612.67" y="46.0" width="0.667" height="8.2" fill="#DC143C"/>
<rect x="612.00" y="47.5" width="2.0" height="4.5" fill="#DC143C"/>
<rect x="615.33" y="46.7" width="0.667" height="9.0" fill="#006400"/>
<rect x="614.67" y="49.0" width="2.0" height="3.0" fill="#006400"/>
<rect x="618.00" y="46.0" width="0.667" height="6.0" fill="#006400"/>
<rect x="617.33" y="47.5" width="2.0" height="3.0" fill="#006400"/>
<rect x="620.67" y="40.0" width="0.667" height="24.0" fill="#DC143C"/>
<rect x="620.00" y="47.5" width="2.0" height="4.5" fill="#DC143C"/>
<rect x="623.33" y="51.2" width="0.667" height="25.5" fill="#DC143C"/>
<rect x="622.67" y="52.0" width="2.0" height="23.2" fill="#DC143C"/>
<rect x="626.00" y="69.2" width="0.667" height="18.8" fill="#006400"/>
<rect x="625.33" y="70.7" width="2.0" height="3.8" fill="#006400"/>
<rect x="628.67" y="69.2" width="0.667" height="15.0" fill="#DC143C"/>
<rect x="628.00" y="70.7" width="2.0" height="12.8" fill="#DC143C"/>
<rect x="631.33" y="76.7" width="0.667" height="11.3" fill="#006400"/>
<rect x="630.67" y="79.0" width="2.0" height="3.7" fill="#006400"/>
<rect x="634.00" y="67.7" width="0.667" height="17.3" fill="#DC143C"/>
<rect x="633.33" y="79.7" width="2.0" height="1.5" fill="#DC143C"/>
<rect x="636.67" y="76.7" width="0.667" height="15.8" fill="#006400"/>
<rect x="636.00" y="79.7" width="2.0" height="1.5" fill="#006400"/>
<rect x="639.33" y="70.0" width="0.667" height="13.5" fill="#DC143C"/>
<rect x="638.67" y="79.0" width="2.0" height="3.0" fill="#DC143C"/>
<rect x="642.00" y="76.0" width="0.667" height="32.2" fill="#DC143C"/>
<rect x="641.33" y="81.2" width="2.0" height="10.5" fill="#DC143C"/>
<rect x="644.67" y="89.5" width="0.667" height="20.2" fill="#DC143C"/>
<rect x="644.00" y="91.0" width="2.0" height="6.7" fill="#DC143C"/>
<rect x="647.33" y="78.0" width="0.667" height="21.0" fill="#006400"/>
<rect x="646.67" y="82.0" width="2.0" height="16.0" fill="#006400"/>
<rect x="650.00" y="79.0" width="0.667" height="18.0" fill="#DC143C"/>
<rect x="649.33" y="80.5" width="2.0" height="10.0" fill="#DC143C"/>
<rect x="652.67" y="80.0" width="0.667" height="14.0" fill="#006400"/>
<rect x="652.00" y="89.0" width="2.0" height="1.5" fill="#006400"/>
<rect x="655.33" y="84.0" width="0.667" height="20.0" fill="#DC143C"/>
<rect x="654.67" y="89.5" width="2.0" height="8.0" fill="#DC143C"/>
<rect x="658.00" y="81.5" width="0.667" height="19.5" fill="#006400"/>
<rect x="657.33" y="95.0" width="2.0" height="2.5" fill="#006400"/>
<rect x="660.67" y="89.0" width="0.667" height="21.0" fill="#006400"/>
<rect x="660.00" y="97.0" width="2.0" height="5.0" fill="#006400"/>
<rect x="663.33" y="87.5" width="0.667" height="17.0" fill="#006400"/>
<rect x="662.67" y="93.0" width="2.0" height="4.5" fill="#006400"/>
<rect x="666.00" y="85.0" width="0.667" height="11.0" fill="#006400"/>
<rect x="665.33" y="89.0" width="2.0" height="4.0" fill="#006400"/>
<rect x="668.67" y="81.5" width="0.667" height="14.5" fill="#006400"/>
<rect x="668.00" y="83.0" width="2.0" height="6.5" fill="#006400"/>
<rect x="671.33" y="70.5" width="0.667" height="18.5" fill="#006400"/>
<rect x="670.67" y="71.5" width="2.0" height="12.0" fill="#006400"/>
<rect x="674.00" y="70.0" width="0.667" height="11.5" fill="#DC143C"/>
<rect x="673.33" y="71.0" width="2.0" height="6.0" fill="#DC143C"/>
<rect x="676.67" y="72.0" width="0.667" height="14.0" fill="#DC143C"/>
<rect x="676.00" y="77.0" width="2.0" height="8.5" fill="#DC143C"/>
<rect x="679.33" y="83.5" width="0.667" height="7.5" fill="#DC143C"/>
<rect x="678.67" y="84.0" width="2.0" height="1.5" fill="#DC143C"/>
<rect x="682.00" y="78.5" width="0.667" height="6.5" fill="#006400"/>
<rect x="681.33" y="81.5" width="2.0" height="3.0" fill="#006400"/>
<rect x="684.67" y="58.0" width="0.667" height="25.0" fill="#006400"/>
<rect x="684.00" y="70.0" width="2.0" height="12.5" fill="#006400"/>
<rect x="687.33" y="67.5" width="0.667" height="14.0" fill="#DC143C"/>
<rect x="686.67" y="70.0" width="2.0" height="8.5" fill="#DC143C"/>
<rect x="690.00" y="72.0" width="0.667" height="15.0" fill="#DC143C"/>
<rect x="689.33" y="78.0" width="2.0" height="3.5" fill="#DC143C"/>
<rect x="692.67" y="77.5" width="0.667" height="5.0" fill="#DC143C"/>
<rect x="692.00" y="80.0" width="2.0" height="1.5" fill="#DC143C"/>
<rect x="695.33" y="74.0" width="0.667" height="10.0" fill="#006400"/>
<rect x="694.67" y="75.0" width="2.0" height="6.0" fill="#006400"/>
<rect x="698.00" y="74.0" width="0.667" height="5.0" fill="#DC143C"/>
<rect x="697.33" y="74.5" width="2.0" height="1.5" fill="#DC143C"/>
<rect x="700.67" y="70.5" width="0.667" height="8.0" fill="#006400"/>
<rect x="700.00" y="72.0" width="2.0" height="4.0" fill="#006400"/>
<rect x="703.33" y="71.5" width="0.667" height="13.5" fill="#DC143C"/>
<rect x="702.67" y="72.0" width="2.0" height="8.5" fill="#DC143C"/>
<rect x="706.00" y="73.0" width="0.667" height="23.5" fill="#DC143C"/>
<rect x="705.33" y="79.0" width="2.0" height="13.5" fill="#DC143C"/>
<rect x="708.67" y="82.5" width="0.667" height="10.5" fill="#006400"/>
<rect x="708.00" y="83.5" width="2.0" height="9.0" fill="#006400"/>
<rect x="711.33" y="84.0" width="0.667" height="6.5" fill="#DC143C"/>
<rect x="710.67" y="85.0" width="2.0" height="1.0" fill="#DC143C"/>
<rect x="714.00" y="85.0" width="0.667" height="8.5" fill="#DC143C"/>
<rect x="713.33" y="85.5" width="2.0" height="7.5" fill="#DC143C"/>
<rect x="716.67" y="82.5" width="0.667" height="13.0" fill="#006400"/>
<rect x="716.00" y="83.5" width="2.0" height="7.5" fill="#006400"/>
<rect x="719.33" y="73.5" width="0.667" height="32.5" fill="#DC143C"/>
<rect x="718.67" y="83.0" width="2.0" height="1.0" fill="#DC143C"/>
<rect x="722.00" y="79.4" width="0.667" height="28.1" fill="#DC143C"/>
<rect x="721.33" y="82.7" width="2.0" height="21.5" fill="#DC143C"/>
<rect x="724.67" y="92.0" width="0.667" height="25.9" fill="#DC143C"/>
<rect x="724.00" y="104.2" width="2.0" height="7.1" fill="#DC143C"/>
<rect x="727.33" y="100.9" width="0.667" height="18.1" fill="#DC143C"/>
<rect x="726.67" y="111.9" width="2.0" height="3.3" fill="#DC143C"/>
<rect x="730.00" y="107.5" width="0.667" height="10.4" fill="#006400"/>
<rect x="729.33" y="113.0" width="2.0" height="1.6" fill="#006400"/>
<rect x="732.67" y="110.8" width="0.667" height="11.5" fill="#DC143C"/>
<rect x="732.00" y="113.0" width="2.0" height="6.0" fill="#DC143C"/>
<rect x="735.33" y="115.7" width="0.667" height="7.7" fill="#DC143C"/>
<rect x="734.67" y="117.4" width="2.0" height="4.9" fill="#DC143C"/>
<rect x="738.00" y="114.0" width="0.667" height="9.4" fill="#006400"/>
<rect x="737.33" y="121.8" width="2.0" height="1.1" fill="#006400"/>
<rect x="740.67" y="116.3" width="0.667" height="9.3" fill="#DC143C"/>
<rect x="740.00" y="121.2" width="2.0" height="2.8" fill="#DC143C"/>
<rect x="743.33" y="115.2" width="0.667" height="8.2" fill="#DC143C"/>
<rect x="742.67" y="115.7" width="2.0" height="1.7" fill="#DC143C"/>
<rect x="746.00" y="107.5" width="0.667" height="12.1" fill="#006400"/>
<rect x="745.33" y="113.0" width="2.0" height="5.5" fill="#006400"/>
<rect x="748.67" y="108.0" width="0.667" height="12.1" fill="#DC143C"/>
<rect x="748.00" y="113.0" width="2.0" height="4.9" fill="#DC143C"/>
<rect x="751.33" y="109.1" width="0.667" height="14.3" fill="#006400"/>
<rect x="750.67" y="111.3" width="2.0" height="6.1" fill="#006400"/>
<rect x="754.00" y="92.0" width="0.667" height="19.5" fill="#006400"/>
<rect x="753.33" y="92.0" width="2.0" height="19.3" fill="#006400"/>
<rect x="756.67" y="83.8" width="0.667" height="14.3" fill="#006400"/>
<rect x="756.00" y="84.4" width="2.0" height="12.6" fill="#006400"/>
</g>
<g class="wm"><text transform="translate(0,260.5) scale(0.9647,1)" x="133.30 153.22 179.93 204.12 217.53 236.98 260.99 286.21 311.10 323.28 351.67 380.35 392.53 405.18 431.98 457.19 470.23 495.01 512.97 534.83 562.43 586.52 609.63 619.30 639.92 663.88" y="0">TOP-TRADING-INDICATORS.COM</text></g>
<g class="lb">
<text x="761.5" y="20.8" textLength="31.0" lengthAdjust="spacingAndGlyphs">116.350</text>
<text x="761.5" y="56.8" textLength="31.0" lengthAdjust="spacingAndGlyphs">116.075</text>
<text x="761.5" y="93.5" textLength="31.0" lengthAdjust="spacingAndGlyphs">115.795</text>
<text x="761.5" y="129.5" textLength="31.0" lengthAdjust="spacingAndGlyphs">115.520</text>
<text x="761.5" y="166.1" textLength="31.0" lengthAdjust="spacingAndGlyphs">115.240</text>
<text x="761.5" y="202.1" textLength="31.0" lengthAdjust="spacingAndGlyphs">114.965</text>
<text x="761.5" y="238.1" textLength="31.0" lengthAdjust="spacingAndGlyphs">114.690</text>
<text x="761.5" y="274.8" textLength="31.0" lengthAdjust="spacingAndGlyphs">114.410</text>
<text x="761.5" y="310.8" textLength="31.0" lengthAdjust="spacingAndGlyphs">114.135</text>
<text x="760" y="333.3" textLength="12.9" lengthAdjust="spacingAndGlyphs">105</text>
<text x="760" y="341.8" textLength="8.6" lengthAdjust="spacingAndGlyphs">95</text>
<text x="760" y="363.4" textLength="8.6" lengthAdjust="spacingAndGlyphs">80</text>
<text x="760" y="449.8" textLength="8.6" lengthAdjust="spacingAndGlyphs">20</text>
<text x="760" y="470.6" textLength="4.3" lengthAdjust="spacingAndGlyphs">5</text>
<text x="760" y="478" textLength="16.5" lengthAdjust="spacingAndGlyphs">0.00</text>
<text x="762.5" y="480.2" textLength="4.3" lengthAdjust="spacingAndGlyphs">5</text>
<text x="2.03" y="493.6" textLength="48" lengthAdjust="spacingAndGlyphs">23 Dec 2021</text>
<text x="66.03" y="493.6" textLength="49.8" lengthAdjust="spacingAndGlyphs">24 Dec 04:00</text>
<text x="130.03" y="493.6" textLength="49.8" lengthAdjust="spacingAndGlyphs">27 Dec 07:00</text>
<text x="194.03" y="493.6" textLength="49.8" lengthAdjust="spacingAndGlyphs">28 Dec 07:00</text>
<text x="258.03" y="493.6" textLength="49.8" lengthAdjust="spacingAndGlyphs">29 Dec 07:00</text>
<text x="322.03" y="493.6" textLength="49.8" lengthAdjust="spacingAndGlyphs">30 Dec 07:00</text>
<text x="386.03" y="493.6" textLength="49.8" lengthAdjust="spacingAndGlyphs">31 Dec 07:00</text>
<text x="450.03" y="493.6" textLength="43.6" lengthAdjust="spacingAndGlyphs">3 Jan 10:00</text>
<text x="514.03" y="493.6" textLength="43.6" lengthAdjust="spacingAndGlyphs">4 Jan 10:00</text>
<text x="578.03" y="493.6" textLength="43.6" lengthAdjust="spacingAndGlyphs">5 Jan 10:00</text>
<text x="642.03" y="493.6" textLength="43.6" lengthAdjust="spacingAndGlyphs">6 Jan 10:00</text>
<text x="706.03" y="493.6" textLength="43.6" lengthAdjust="spacingAndGlyphs">7 Jan 10:00</text>
<text x="13.6" y="12.7" textLength="43" lengthAdjust="spacingAndGlyphs">USDJPY,H1</text>
<text x="60.3" y="12.7" textLength="131.8" lengthAdjust="spacingAndGlyphs">113.736 113.929 113.642 113.842</text>
<text x="4.8" y="334.3" textLength="54.6" lengthAdjust="spacingAndGlyphs">DSS_Mod(5,5)</text>
<text x="60.4" y="334.3" textLength="134.6" lengthAdjust="spacingAndGlyphs">86.7088 86.7088 2147483647.0000</text>
</g>
<g clip-path="url(#ic)">
<line x1="3" y1="338.5" x2="757" y2="338.5" stroke="#b4b4b4" stroke-width="1" stroke-dasharray="2 2"/>
<line x1="3" y1="360.1" x2="757" y2="360.1" stroke="#b4b4b4" stroke-width="1" stroke-dasharray="2 2"/>
<line x1="3" y1="446.5" x2="757" y2="446.5" stroke="#b4b4b4" stroke-width="1" stroke-dasharray="2 2"/>
<line x1="3" y1="467.6" x2="757" y2="467.6" stroke="#b4b4b4" stroke-width="1" stroke-dasharray="2 2"/>
<polyline points="1.5,368.5 2.33,369.7 5.00,372.4 7.67,399.6 10.33,376.9 13.00,361.5 15.67,351.6 18.33,344.7 21.00,340.1 23.67,337.5 26.33,352.4 29.00,380.7 31.67,411.8 34.33,428.6 37.00,427.0 39.67,407.8 42.33,382.0 45.00,364.9 47.67,354.0 50.33,394.0 53.00,420.3 55.67,428.6 58.33,417.1 61.00,436.1 63.67,448.9 66.33,457.7 69.00,462.7 71.67,467.3 74.33,427.3 77.00,395.3 79.67,374.0 82.33,359.6 85.00,350.0 87.67,351.6 90.33,345.2 93.00,340.9 95.67,357.7 98.33,380.7 101.00,397.5 103.67,422.7 106.33,440.6 109.00,451.5 111.67,435.5 114.33,416.9 117.00,387.9 119.67,369.2 122.33,356.1 125.00,348.1 127.67,342.0 130.33,357.5 133.00,362.0 135.67,382.8 138.33,367.9 141.00,356.1 143.67,348.1 146.33,342.5 149.00,338.8 151.67,336.1 154.33,382.0 157.00,390.0 159.67,418.5 162.33,416.9 165.00,387.9 167.67,369.2 170.33,404.2 173.00,427.8 175.67,443.5 178.33,453.9 181.00,446.2 183.67,424.9 186.33,394.8 189.00,373.2 191.67,367.9 194.33,366.5 197.00,354.8 199.67,394.8 202.33,421.4 205.00,439.0 207.67,444.9 210.33,427.8 213.00,395.9 215.67,409.5 218.33,414.5 221.00,434.5 223.67,448.3 226.33,456.6 229.00,427.8 231.67,395.9 234.33,373.7 237.00,359.6 239.67,356.7 242.33,395.9 245.00,386.3 247.67,393.7 250.33,381.2 253.00,364.1 255.67,353.2 258.33,345.5 261.00,341.2 263.67,347.1 266.33,342.0 269.00,338.0 271.67,352.4 274.33,392.9 277.00,420.3 279.67,438.2 282.33,449.9 285.00,435.5 287.67,400.4 290.33,377.5 293.00,362.3 295.67,351.6 298.33,355.3 301.00,394.5 303.67,421.1 306.33,439.0 309.00,427.8 311.67,395.9 314.33,374.8 317.00,359.9 319.67,350.0 322.33,344.4 325.00,339.9 327.67,382.0 330.33,413.1 333.00,433.7 335.67,447.0 338.33,455.8 341.00,461.9 343.67,446.2 346.33,434.7 349.00,399.9 351.67,376.9 354.33,362.0 357.00,357.5 359.67,396.9 362.33,422.7 365.00,439.8 367.67,451.3 370.33,453.1 373.00,430.2 375.67,396.9 378.33,375.3 381.00,360.2 383.67,350.8 386.33,344.4 389.00,339.9 391.67,336.7 394.33,382.8 397.00,404.2 399.67,413.1 402.33,408.1 405.00,382.0 407.67,371.9 410.33,396.7 413.00,391.1 415.67,419.0 418.33,437.4 421.00,449.4 423.67,449.4 426.33,431.8 429.00,398.5 431.67,376.4 434.33,360.4 437.00,350.8 439.67,344.4 442.33,340.1 445.00,345.2 447.67,387.9 450.33,417.1 453.00,436.1 455.67,448.9 458.33,457.4 461.00,462.6 463.67,424.9 466.33,393.2 469.00,372.4 471.67,358.8 474.33,349.5 477.00,354.8 479.67,362.0 482.33,351.6 485.00,383.3 487.67,413.9 490.33,424.6 493.00,427.0 495.67,422.2 498.33,391.3 501.00,371.9 503.67,358.3 506.33,348.7 509.00,342.8 511.67,364.1 514.33,371.1 517.00,404.8 519.67,382.0 522.33,364.9 525.00,354.0 527.67,358.3 530.33,396.4 533.00,422.7 535.67,439.8 538.33,451.5 541.00,459.0 543.67,464.1 546.33,464.1 549.00,467.3 551.67,444.9 554.33,407.2 557.00,382.0 559.67,412.3 562.33,432.9 565.00,447.3 567.67,451.5 570.33,459.0 573.00,461.9 575.67,418.2 578.33,435.5 581.00,448.1 583.67,456.9 586.33,462.7 589.00,448.1 591.67,408.7 594.33,384.9 597.00,366.5 599.67,354.8 602.33,346.8 605.00,341.5 607.67,337.7 610.33,336.1 613.00,348.7 615.67,390.3 618.33,418.2 621.00,436.6 623.67,449.4 626.33,457.4 629.00,463.5 631.67,467.0 634.33,469.4 637.00,446.2 639.67,407.9 642.33,382.0 645.00,374.8 647.67,359.9 650.33,350.3 653.00,344.4 655.67,351.6 658.33,392.4 661.00,411.5 663.67,390.8 666.33,371.1 669.00,357.7 671.67,348.7 674.33,342.5 677.00,365.7 679.67,402.0 682.33,426.5 685.00,436.9 687.67,449.4 690.33,457.4 693.00,463.5 695.67,462.7 698.33,441.4 701.00,404.5 703.67,398.5 706.33,419.0 709.00,430.5 711.67,436.9 714.33,449.4 717.00,410.0 719.67,383.6 722.33,409.2 725.00,431.0 727.67,445.9 730.33,455.0 733.00,460.9 735.67,465.4 738.33,468.9 741.00,464.6 743.67,420.3 746.33,390.8 749.00,371.1 751.67,358.0 754.33,348.9 757.00,342.8" fill="none" stroke="#505050" stroke-width="1.8" stroke-linejoin="round"/>
<circle cx="2.33" cy="369.7" r="2.05" fill="#FF0000"/>
<circle cx="5.00" cy="372.4" r="2.05" fill="#FF0000"/>
<circle cx="7.67" cy="399.6" r="2.05" fill="#FF0000"/>
<circle cx="10.33" cy="376.9" r="2.05" fill="#1E90FF"/>
<circle cx="13.00" cy="361.5" r="2.05" fill="#1E90FF"/>
<circle cx="15.67" cy="351.6" r="2.05" fill="#1E90FF"/>
<circle cx="18.33" cy="344.7" r="2.05" fill="#1E90FF"/>
<circle cx="21.00" cy="340.1" r="2.05" fill="#1E90FF"/>
<circle cx="23.67" cy="337.5" r="2.05" fill="#FF0000"/>
<circle cx="26.33" cy="352.4" r="2.05" fill="#FF0000"/>
<circle cx="29.00" cy="380.7" r="2.05" fill="#FF0000"/>
<circle cx="31.67" cy="411.8" r="2.05" fill="#FF0000"/>
<circle cx="34.33" cy="428.6" r="2.05" fill="#FF0000"/>
<circle cx="37.00" cy="427.0" r="2.05" fill="#1E90FF"/>
<circle cx="39.67" cy="407.8" r="2.05" fill="#1E90FF"/>
<circle cx="42.33" cy="382.0" r="2.05" fill="#1E90FF"/>
<circle cx="45.00" cy="364.9" r="2.05" fill="#1E90FF"/>
<circle cx="47.67" cy="354.0" r="2.05" fill="#FF0000"/>
<circle cx="50.33" cy="394.0" r="2.05" fill="#FF0000"/>
<circle cx="53.00" cy="420.3" r="2.05" fill="#FF0000"/>
<circle cx="55.67" cy="428.6" r="2.05" fill="#FF0000"/>
<circle cx="58.33" cy="417.1" r="2.05" fill="#FF0000"/>
<circle cx="61.00" cy="436.1" r="2.05" fill="#FF0000"/>
<circle cx="63.67" cy="448.9" r="2.05" fill="#FF0000"/>
<circle cx="66.33" cy="457.7" r="2.05" fill="#FF0000"/>
<circle cx="69.00" cy="462.7" r="2.05" fill="#FF0000"/>
<circle cx="71.67" cy="467.3" r="2.05" fill="#FF0000"/>
<circle cx="74.33" cy="427.3" r="2.05" fill="#1E90FF"/>
<circle cx="77.00" cy="395.3" r="2.05" fill="#1E90FF"/>
<circle cx="79.67" cy="374.0" r="2.05" fill="#1E90FF"/>
<circle cx="82.33" cy="359.6" r="2.05" fill="#1E90FF"/>
<circle cx="85.00" cy="350.0" r="2.05" fill="#FF0000"/>
<circle cx="87.67" cy="351.6" r="2.05" fill="#FF0000"/>
<circle cx="90.33" cy="345.2" r="2.05" fill="#1E90FF"/>
<circle cx="93.00" cy="340.9" r="2.05" fill="#FF0000"/>
<circle cx="95.67" cy="357.7" r="2.05" fill="#FF0000"/>
<circle cx="98.33" cy="380.7" r="2.05" fill="#FF0000"/>
<circle cx="101.00" cy="397.5" r="2.05" fill="#FF0000"/>
<circle cx="103.67" cy="422.7" r="2.05" fill="#FF0000"/>
<circle cx="106.33" cy="440.6" r="2.05" fill="#FF0000"/>
<circle cx="109.00" cy="451.5" r="2.05" fill="#FF0000"/>
<circle cx="111.67" cy="435.5" r="2.05" fill="#1E90FF"/>
<circle cx="114.33" cy="416.9" r="2.05" fill="#1E90FF"/>
<circle cx="117.00" cy="387.9" r="2.05" fill="#1E90FF"/>
<circle cx="119.67" cy="369.2" r="2.05" fill="#1E90FF"/>
<circle cx="122.33" cy="356.1" r="2.05" fill="#1E90FF"/>
<circle cx="125.00" cy="348.1" r="2.05" fill="#1E90FF"/>
<circle cx="127.67" cy="342.0" r="2.05" fill="#FF0000"/>
<circle cx="130.33" cy="357.5" r="2.05" fill="#FF0000"/>
<circle cx="133.00" cy="362.0" r="2.05" fill="#FF0000"/>
<circle cx="135.67" cy="382.8" r="2.05" fill="#FF0000"/>
<circle cx="138.33" cy="367.9" r="2.05" fill="#1E90FF"/>
<circle cx="141.00" cy="356.1" r="2.05" fill="#1E90FF"/>
<circle cx="143.67" cy="348.1" r="2.05" fill="#1E90FF"/>
<circle cx="146.33" cy="342.5" r="2.05" fill="#1E90FF"/>
<circle cx="149.00" cy="338.8" r="2.05" fill="#1E90FF"/>
<circle cx="151.67" cy="336.1" r="2.05" fill="#FF0000"/>
<circle cx="154.33" cy="382.0" r="2.05" fill="#FF0000"/>
<circle cx="157.00" cy="390.0" r="2.05" fill="#FF0000"/>
<circle cx="159.67" cy="418.5" r="2.05" fill="#FF0000"/>
<circle cx="162.33" cy="416.9" r="2.05" fill="#1E90FF"/>
<circle cx="165.00" cy="387.9" r="2.05" fill="#1E90FF"/>
<circle cx="167.67" cy="369.2" r="2.05" fill="#FF0000"/>
<circle cx="170.33" cy="404.2" r="2.05" fill="#FF0000"/>
<circle cx="173.00" cy="427.8" r="2.05" fill="#FF0000"/>
<circle cx="175.67" cy="443.5" r="2.05" fill="#FF0000"/>
<circle cx="178.33" cy="453.9" r="2.05" fill="#FF0000"/>
<circle cx="181.00" cy="446.2" r="2.05" fill="#1E90FF"/>
<circle cx="183.67" cy="424.9" r="2.05" fill="#1E90FF"/>
<circle cx="186.33" cy="394.8" r="2.05" fill="#1E90FF"/>
<circle cx="189.00" cy="373.2" r="2.05" fill="#1E90FF"/>
<circle cx="191.67" cy="367.9" r="2.05" fill="#1E90FF"/>
<circle cx="194.33" cy="366.5" r="2.05" fill="#1E90FF"/>
<circle cx="197.00" cy="354.8" r="2.05" fill="#FF0000"/>
<circle cx="199.67" cy="394.8" r="2.05" fill="#FF0000"/>
<circle cx="202.33" cy="421.4" r="2.05" fill="#FF0000"/>
<circle cx="205.00" cy="439.0" r="2.05" fill="#FF0000"/>
<circle cx="207.67" cy="444.9" r="2.05" fill="#FF0000"/>
<circle cx="210.33" cy="427.8" r="2.05" fill="#1E90FF"/>
<circle cx="213.00" cy="395.9" r="2.05" fill="#FF0000"/>
<circle cx="215.67" cy="409.5" r="2.05" fill="#FF0000"/>
<circle cx="218.33" cy="414.5" r="2.05" fill="#FF0000"/>
<circle cx="221.00" cy="434.5" r="2.05" fill="#FF0000"/>
<circle cx="223.67" cy="448.3" r="2.05" fill="#FF0000"/>
<circle cx="226.33" cy="456.6" r="2.05" fill="#FF0000"/>
<circle cx="229.00" cy="427.8" r="2.05" fill="#1E90FF"/>
<circle cx="231.67" cy="395.9" r="2.05" fill="#1E90FF"/>
<circle cx="234.33" cy="373.7" r="2.05" fill="#1E90FF"/>
<circle cx="237.00" cy="359.6" r="2.05" fill="#1E90FF"/>
<circle cx="239.67" cy="356.7" r="2.05" fill="#FF0000"/>
<circle cx="242.33" cy="395.9" r="2.05" fill="#FF0000"/>
<circle cx="245.00" cy="386.3" r="2.05" fill="#FF0000"/>
<circle cx="247.67" cy="393.7" r="2.05" fill="#FF0000"/>
<circle cx="250.33" cy="381.2" r="2.05" fill="#1E90FF"/>
<circle cx="253.00" cy="364.1" r="2.05" fill="#1E90FF"/>
<circle cx="255.67" cy="353.2" r="2.05" fill="#1E90FF"/>
<circle cx="258.33" cy="345.5" r="2.05" fill="#1E90FF"/>
<circle cx="261.00" cy="341.2" r="2.05" fill="#FF0000"/>
<circle cx="263.67" cy="347.1" r="2.05" fill="#FF0000"/>
<circle cx="266.33" cy="342.0" r="2.05" fill="#1E90FF"/>
<circle cx="269.00" cy="338.0" r="2.05" fill="#FF0000"/>
<circle cx="271.67" cy="352.4" r="2.05" fill="#FF0000"/>
<circle cx="274.33" cy="392.9" r="2.05" fill="#FF0000"/>
<circle cx="277.00" cy="420.3" r="2.05" fill="#FF0000"/>
<circle cx="279.67" cy="438.2" r="2.05" fill="#FF0000"/>
<circle cx="282.33" cy="449.9" r="2.05" fill="#FF0000"/>
<circle cx="285.00" cy="435.5" r="2.05" fill="#1E90FF"/>
<circle cx="287.67" cy="400.4" r="2.05" fill="#1E90FF"/>
<circle cx="290.33" cy="377.5" r="2.05" fill="#1E90FF"/>
<circle cx="293.00" cy="362.3" r="2.05" fill="#1E90FF"/>
<circle cx="295.67" cy="351.6" r="2.05" fill="#FF0000"/>
<circle cx="298.33" cy="355.3" r="2.05" fill="#FF0000"/>
<circle cx="301.00" cy="394.5" r="2.05" fill="#FF0000"/>
<circle cx="303.67" cy="421.1" r="2.05" fill="#FF0000"/>
<circle cx="306.33" cy="439.0" r="2.05" fill="#FF0000"/>
<circle cx="309.00" cy="427.8" r="2.05" fill="#1E90FF"/>
<circle cx="311.67" cy="395.9" r="2.05" fill="#1E90FF"/>
<circle cx="314.33" cy="374.8" r="2.05" fill="#1E90FF"/>
<circle cx="317.00" cy="359.9" r="2.05" fill="#1E90FF"/>
<circle cx="319.67" cy="350.0" r="2.05" fill="#1E90FF"/>
<circle cx="322.33" cy="344.4" r="2.05" fill="#1E90FF"/>
<circle cx="325.00" cy="339.9" r="2.05" fill="#FF0000"/>
<circle cx="327.67" cy="382.0" r="2.05" fill="#FF0000"/>
<circle cx="330.33" cy="413.1" r="2.05" fill="#FF0000"/>
<circle cx="333.00" cy="433.7" r="2.05" fill="#FF0000"/>
<circle cx="335.67" cy="447.0" r="2.05" fill="#FF0000"/>
<circle cx="338.33" cy="455.8" r="2.05" fill="#FF0000"/>
<circle cx="341.00" cy="461.9" r="2.05" fill="#FF0000"/>
<circle cx="343.67" cy="446.2" r="2.05" fill="#1E90FF"/>
<circle cx="346.33" cy="434.7" r="2.05" fill="#1E90FF"/>
<circle cx="349.00" cy="399.9" r="2.05" fill="#1E90FF"/>
<circle cx="351.67" cy="376.9" r="2.05" fill="#1E90FF"/>
<circle cx="354.33" cy="362.0" r="2.05" fill="#1E90FF"/>
<circle cx="357.00" cy="357.5" r="2.05" fill="#FF0000"/>
<circle cx="359.67" cy="396.9" r="2.05" fill="#FF0000"/>
<circle cx="362.33" cy="422.7" r="2.05" fill="#FF0000"/>
<circle cx="365.00" cy="439.8" r="2.05" fill="#FF0000"/>
<circle cx="367.67" cy="451.3" r="2.05" fill="#FF0000"/>
<circle cx="370.33" cy="453.1" r="2.05" fill="#FF0000"/>
<circle cx="373.00" cy="430.2" r="2.05" fill="#1E90FF"/>
<circle cx="375.67" cy="396.9" r="2.05" fill="#1E90FF"/>
<circle cx="378.33" cy="375.3" r="2.05" fill="#1E90FF"/>
<circle cx="381.00" cy="360.2" r="2.05" fill="#1E90FF"/>
<circle cx="383.67" cy="350.8" r="2.05" fill="#1E90FF"/>
<circle cx="386.33" cy="344.4" r="2.05" fill="#1E90FF"/>
<circle cx="389.00" cy="339.9" r="2.05" fill="#1E90FF"/>
<circle cx="391.67" cy="336.7" r="2.05" fill="#FF0000"/>
<circle cx="394.33" cy="382.8" r="2.05" fill="#FF0000"/>
<circle cx="397.00" cy="404.2" r="2.05" fill="#FF0000"/>
<circle cx="399.67" cy="413.1" r="2.05" fill="#FF0000"/>
<circle cx="402.33" cy="408.1" r="2.05" fill="#1E90FF"/>
<circle cx="405.00" cy="382.0" r="2.05" fill="#1E90FF"/>
<circle cx="407.67" cy="371.9" r="2.05" fill="#FF0000"/>
<circle cx="410.33" cy="396.7" r="2.05" fill="#FF0000"/>
<circle cx="413.00" cy="391.1" r="2.05" fill="#FF0000"/>
<circle cx="415.67" cy="419.0" r="2.05" fill="#FF0000"/>
<circle cx="418.33" cy="437.4" r="2.05" fill="#FF0000"/>
<circle cx="421.00" cy="449.4" r="2.05" fill="#FF0000"/>
<circle cx="423.67" cy="449.4" r="2.05" fill="#1E90FF"/>
<circle cx="426.33" cy="431.8" r="2.05" fill="#1E90FF"/>
<circle cx="429.00" cy="398.5" r="2.05" fill="#1E90FF"/>
<circle cx="431.67" cy="376.4" r="2.05" fill="#1E90FF"/>
<circle cx="434.33" cy="360.4" r="2.05" fill="#1E90FF"/>
<circle cx="437.00" cy="350.8" r="2.05" fill="#1E90FF"/>
<circle cx="439.67" cy="344.4" r="2.05" fill="#1E90FF"/>
<circle cx="442.33" cy="340.1" r="2.05" fill="#FF0000"/>
<circle cx="445.00" cy="345.2" r="2.05" fill="#FF0000"/>
<circle cx="447.67" cy="387.9" r="2.05" fill="#FF0000"/>
<circle cx="450.33" cy="417.1" r="2.05" fill="#FF0000"/>
<circle cx="453.00" cy="436.1" r="2.05" fill="#FF0000"/>
<circle cx="455.67" cy="448.9" r="2.05" fill="#FF0000"/>
<circle cx="458.33" cy="457.4" r="2.05" fill="#FF0000"/>
<circle cx="461.00" cy="462.6" r="2.05" fill="#FF0000"/>
<circle cx="463.67" cy="424.9" r="2.05" fill="#1E90FF"/>
<circle cx="466.33" cy="393.2" r="2.05" fill="#1E90FF"/>
<circle cx="469.00" cy="372.4" r="2.05" fill="#1E90FF"/>
<circle cx="471.67" cy="358.8" r="2.05" fill="#1E90FF"/>
<circle cx="474.33" cy="349.5" r="2.05" fill="#FF0000"/>
<circle cx="477.00" cy="354.8" r="2.05" fill="#FF0000"/>
<circle cx="479.67" cy="362.0" r="2.05" fill="#FF0000"/>
<circle cx="482.33" cy="351.6" r="2.05" fill="#FF0000"/>
<circle cx="485.00" cy="383.3" r="2.05" fill="#FF0000"/>
<circle cx="487.67" cy="413.9" r="2.05" fill="#FF0000"/>
<circle cx="490.33" cy="424.6" r="2.05" fill="#FF0000"/>
<circle cx="493.00" cy="427.0" r="2.05" fill="#FF0000"/>
<circle cx="495.67" cy="422.2" r="2.05" fill="#1E90FF"/>
<circle cx="498.33" cy="391.3" r="2.05" fill="#1E90FF"/>
<circle cx="501.00" cy="371.9" r="2.05" fill="#1E90FF"/>
<circle cx="503.67" cy="358.3" r="2.05" fill="#1E90FF"/>
<circle cx="506.33" cy="348.7" r="2.05" fill="#1E90FF"/>
<circle cx="509.00" cy="342.8" r="2.05" fill="#FF0000"/>
<circle cx="511.67" cy="364.1" r="2.05" fill="#FF0000"/>
<circle cx="514.33" cy="371.1" r="2.05" fill="#FF0000"/>
<circle cx="517.00" cy="404.8" r="2.05" fill="#FF0000"/>
<circle cx="519.67" cy="382.0" r="2.05" fill="#1E90FF"/>
<circle cx="522.33" cy="364.9" r="2.05" fill="#1E90FF"/>
<circle cx="525.00" cy="354.0" r="2.05" fill="#FF0000"/>
<circle cx="527.67" cy="358.3" r="2.05" fill="#FF0000"/>
<circle cx="530.33" cy="396.4" r="2.05" fill="#FF0000"/>
<circle cx="533.00" cy="422.7" r="2.05" fill="#FF0000"/>
<circle cx="535.67" cy="439.8" r="2.05" fill="#FF0000"/>
<circle cx="538.33" cy="451.5" r="2.05" fill="#FF0000"/>
<circle cx="541.00" cy="459.0" r="2.05" fill="#FF0000"/>
<circle cx="543.67" cy="464.1" r="2.05" fill="#FF0000"/>
<circle cx="546.33" cy="464.1" r="2.05" fill="#FF0000"/>
<circle cx="549.00" cy="467.3" r="2.05" fill="#FF0000"/>
<circle cx="551.67" cy="444.9" r="2.05" fill="#1E90FF"/>
<circle cx="554.33" cy="407.2" r="2.05" fill="#1E90FF"/>
<circle cx="557.00" cy="382.0" r="2.05" fill="#FF0000"/>
<circle cx="559.67" cy="412.3" r="2.05" fill="#FF0000"/>
<circle cx="562.33" cy="432.9" r="2.05" fill="#FF0000"/>
<circle cx="565.00" cy="447.3" r="2.05" fill="#FF0000"/>
<circle cx="567.67" cy="451.5" r="2.05" fill="#FF0000"/>
<circle cx="570.33" cy="459.0" r="2.05" fill="#FF0000"/>
<circle cx="573.00" cy="461.9" r="2.05" fill="#FF0000"/>
<circle cx="575.67" cy="418.2" r="2.05" fill="#FF0000"/>
<circle cx="578.33" cy="435.5" r="2.05" fill="#FF0000"/>
<circle cx="581.00" cy="448.1" r="2.05" fill="#FF0000"/>
<circle cx="583.67" cy="456.9" r="2.05" fill="#FF0000"/>
<circle cx="586.33" cy="462.7" r="2.05" fill="#FF0000"/>
<circle cx="589.00" cy="448.1" r="2.05" fill="#1E90FF"/>
<circle cx="591.67" cy="408.7" r="2.05" fill="#1E90FF"/>
<circle cx="594.33" cy="384.9" r="2.05" fill="#1E90FF"/>
<circle cx="597.00" cy="366.5" r="2.05" fill="#1E90FF"/>
<circle cx="599.67" cy="354.8" r="2.05" fill="#1E90FF"/>
<circle cx="602.33" cy="346.8" r="2.05" fill="#1E90FF"/>
<circle cx="605.00" cy="341.5" r="2.05" fill="#1E90FF"/>
<circle cx="607.67" cy="337.7" r="2.05" fill="#1E90FF"/>
<circle cx="610.33" cy="336.1" r="2.05" fill="#FF0000"/>
<circle cx="613.00" cy="348.7" r="2.05" fill="#FF0000"/>
<circle cx="615.67" cy="390.3" r="2.05" fill="#FF0000"/>
<circle cx="618.33" cy="418.2" r="2.05" fill="#FF0000"/>
<circle cx="621.00" cy="436.6" r="2.05" fill="#FF0000"/>
<circle cx="623.67" cy="449.4" r="2.05" fill="#FF0000"/>
<circle cx="626.33" cy="457.4" r="2.05" fill="#FF0000"/>
<circle cx="629.00" cy="463.5" r="2.05" fill="#FF0000"/>
<circle cx="631.67" cy="467.0" r="2.05" fill="#FF0000"/>
<circle cx="634.33" cy="469.4" r="2.05" fill="#FF0000"/>
<circle cx="637.00" cy="446.2" r="2.05" fill="#1E90FF"/>
<circle cx="639.67" cy="407.9" r="2.05" fill="#1E90FF"/>
<circle cx="642.33" cy="382.0" r="2.05" fill="#1E90FF"/>
<circle cx="645.00" cy="374.8" r="2.05" fill="#1E90FF"/>
<circle cx="647.67" cy="359.9" r="2.05" fill="#1E90FF"/>
<circle cx="650.33" cy="350.3" r="2.05" fill="#1E90FF"/>
<circle cx="653.00" cy="344.4" r="2.05" fill="#FF0000"/>
<circle cx="655.67" cy="351.6" r="2.05" fill="#FF0000"/>
<circle cx="658.33" cy="392.4" r="2.05" fill="#FF0000"/>
<circle cx="661.00" cy="411.5" r="2.05" fill="#FF0000"/>
<circle cx="663.67" cy="390.8" r="2.05" fill="#1E90FF"/>
<circle cx="666.33" cy="371.1" r="2.05" fill="#1E90FF"/>
<circle cx="669.00" cy="357.7" r="2.05" fill="#1E90FF"/>
<circle cx="671.67" cy="348.7" r="2.05" fill="#1E90FF"/>
<circle cx="674.33" cy="342.5" r="2.05" fill="#FF0000"/>
<circle cx="677.00" cy="365.7" r="2.05" fill="#FF0000"/>
<circle cx="679.67" cy="402.0" r="2.05" fill="#FF0000"/>
<circle cx="682.33" cy="426.5" r="2.05" fill="#FF0000"/>
<circle cx="685.00" cy="436.9" r="2.05" fill="#FF0000"/>
<circle cx="687.67" cy="449.4" r="2.05" fill="#FF0000"/>
<circle cx="690.33" cy="457.4" r="2.05" fill="#FF0000"/>
<circle cx="693.00" cy="463.5" r="2.05" fill="#FF0000"/>
<circle cx="695.67" cy="462.7" r="2.05" fill="#1E90FF"/>
<circle cx="698.33" cy="441.4" r="2.05" fill="#1E90FF"/>
<circle cx="701.00" cy="404.5" r="2.05" fill="#1E90FF"/>
<circle cx="703.67" cy="398.5" r="2.05" fill="#FF0000"/>
<circle cx="706.33" cy="419.0" r="2.05" fill="#FF0000"/>
<circle cx="709.00" cy="430.5" r="2.05" fill="#FF0000"/>
<circle cx="711.67" cy="436.9" r="2.05" fill="#FF0000"/>
<circle cx="714.33" cy="449.4" r="2.05" fill="#FF0000"/>
<circle cx="717.00" cy="410.0" r="2.05" fill="#1E90FF"/>
<circle cx="719.67" cy="383.6" r="2.05" fill="#FF0000"/>
<circle cx="722.33" cy="409.2" r="2.05" fill="#FF0000"/>
<circle cx="725.00" cy="431.0" r="2.05" fill="#FF0000"/>
<circle cx="727.67" cy="445.9" r="2.05" fill="#FF0000"/>
<circle cx="730.33" cy="455.0" r="2.05" fill="#FF0000"/>
<circle cx="733.00" cy="460.9" r="2.05" fill="#FF0000"/>
<circle cx="735.67" cy="465.4" r="2.05" fill="#FF0000"/>
<circle cx="738.33" cy="468.9" r="2.05" fill="#FF0000"/>
<circle cx="741.00" cy="464.6" r="2.05" fill="#1E90FF"/>
<circle cx="743.67" cy="420.3" r="2.05" fill="#1E90FF"/>
<circle cx="746.33" cy="390.8" r="2.05" fill="#1E90FF"/>
<circle cx="749.00" cy="371.1" r="2.05" fill="#1E90FF"/>
<circle cx="751.67" cy="358.0" r="2.05" fill="#1E90FF"/>
<circle cx="754.33" cy="348.9" r="2.05" fill="#1E90FF"/>
<circle cx="757.00" cy="342.8" r="2.05" fill="#1E90FF"/>
<line x1="3" y1="338.5" x2="757" y2="338.5" stroke="#c8c8c8" stroke-width="1" stroke-dasharray="2 2" clip-path="url(#dc)"/>
<line x1="3" y1="360.1" x2="757" y2="360.1" stroke="#c8c8c8" stroke-width="1" stroke-dasharray="2 2" clip-path="url(#dc)"/>
<line x1="3" y1="446.5" x2="757" y2="446.5" stroke="#c8c8c8" stroke-width="1" stroke-dasharray="2 2" clip-path="url(#dc)"/>
<line x1="3" y1="467.6" x2="757" y2="467.6" stroke="#c8c8c8" stroke-width="1" stroke-dasharray="2 2" clip-path="url(#dc)"/>
<circle cx="10.33" cy="481.4" r="2.4" fill="#FF0000" clip-path="url(#ic)"/>
<circle cx="13.00" cy="481.4" r="2.4" fill="#FF0000" clip-path="url(#ic)"/>
<circle cx="15.67" cy="481.4" r="2.4" fill="#FF0000" clip-path="url(#ic)"/>
<circle cx="18.33" cy="481.4" r="2.4" fill="#FF0000" clip-path="url(#ic)"/>
<circle cx="21.00" cy="481.4" r="2.4" fill="#FF0000" clip-path="url(#ic)"/>
<circle cx="37.00" cy="481.4" r="2.4" fill="#FF0000" clip-path="url(#ic)"/>
<circle cx="39.67" cy="481.4" r="2.4" fill="#FF0000" clip-path="url(#ic)"/>
<circle cx="42.33" cy="481.4" r="2.4" fill="#FF0000" clip-path="url(#ic)"/>
<circle cx="45.00" cy="481.4" r="2.4" fill="#FF0000" clip-path="url(#ic)"/>
<circle cx="74.33" cy="481.4" r="2.4" fill="#FF0000" clip-path="url(#ic)"/>
<circle cx="77.00" cy="481.4" r="2.4" fill="#FF0000" clip-path="url(#ic)"/>
<circle cx="79.67" cy="481.4" r="2.4" fill="#FF0000" clip-path="url(#ic)"/>
<circle cx="82.33" cy="481.4" r="2.4" fill="#FF0000" clip-path="url(#ic)"/>
<circle cx="90.33" cy="481.4" r="2.4" fill="#FF0000" clip-path="url(#ic)"/>
<circle cx="111.67" cy="481.4" r="2.4" fill="#FF0000" clip-path="url(#ic)"/>
<circle cx="114.33" cy="481.4" r="2.4" fill="#FF0000" clip-path="url(#ic)"/>
<circle cx="117.00" cy="481.4" r="2.4" fill="#FF0000" clip-path="url(#ic)"/>
<circle cx="119.67" cy="481.4" r="2.4" fill="#FF0000" clip-path="url(#ic)"/>
<circle cx="122.33" cy="481.4" r="2.4" fill="#FF0000" clip-path="url(#ic)"/>
<circle cx="125.00" cy="481.4" r="2.4" fill="#FF0000" clip-path="url(#ic)"/>
<circle cx="138.33" cy="481.4" r="2.4" fill="#FF0000" clip-path="url(#ic)"/>
<circle cx="141.00" cy="481.4" r="2.4" fill="#FF0000" clip-path="url(#ic)"/>
<circle cx="143.67" cy="481.4" r="2.4" fill="#FF0000" clip-path="url(#ic)"/>
<circle cx="146.33" cy="481.4" r="2.4" fill="#FF0000" clip-path="url(#ic)"/>
<circle cx="149.00" cy="481.4" r="2.4" fill="#FF0000" clip-path="url(#ic)"/>
<circle cx="162.33" cy="481.4" r="2.4" fill="#FF0000" clip-path="url(#ic)"/>
<circle cx="165.00" cy="481.4" r="2.4" fill="#FF0000" clip-path="url(#ic)"/>
<circle cx="181.00" cy="481.4" r="2.4" fill="#FF0000" clip-path="url(#ic)"/>
<circle cx="183.67" cy="481.4" r="2.4" fill="#FF0000" clip-path="url(#ic)"/>
<circle cx="186.33" cy="481.4" r="2.4" fill="#FF0000" clip-path="url(#ic)"/>
<circle cx="189.00" cy="481.4" r="2.4" fill="#FF0000" clip-path="url(#ic)"/>
<circle cx="191.67" cy="481.4" r="2.4" fill="#FF0000" clip-path="url(#ic)"/>
<circle cx="194.33" cy="481.4" r="2.4" fill="#FF0000" clip-path="url(#ic)"/>
<circle cx="210.33" cy="481.4" r="2.4" fill="#FF0000" clip-path="url(#ic)"/>
<circle cx="229.00" cy="481.4" r="2.4" fill="#FF0000" clip-path="url(#ic)"/>
<circle cx="231.67" cy="481.4" r="2.4" fill="#FF0000" clip-path="url(#ic)"/>
<circle cx="234.33" cy="481.4" r="2.4" fill="#FF0000" clip-path="url(#ic)"/>
<circle cx="237.00" cy="481.4" r="2.4" fill="#FF0000" clip-path="url(#ic)"/>
<circle cx="250.33" cy="481.4" r="2.4" fill="#FF0000" clip-path="url(#ic)"/>
<circle cx="253.00" cy="481.4" r="2.4" fill="#FF0000" clip-path="url(#ic)"/>
<circle cx="255.67" cy="481.4" r="2.4" fill="#FF0000" clip-path="url(#ic)"/>
<circle cx="258.33" cy="481.4" r="2.4" fill="#FF0000" clip-path="url(#ic)"/>
<circle cx="266.33" cy="481.4" r="2.4" fill="#FF0000" clip-path="url(#ic)"/>
<circle cx="285.00" cy="481.4" r="2.4" fill="#FF0000" clip-path="url(#ic)"/>
<circle cx="287.67" cy="481.4" r="2.4" fill="#FF0000" clip-path="url(#ic)"/>
<circle cx="290.33" cy="481.4" r="2.4" fill="#FF0000" clip-path="url(#ic)"/>
<circle cx="293.00" cy="481.4" r="2.4" fill="#FF0000" clip-path="url(#ic)"/>
<circle cx="309.00" cy="481.4" r="2.4" fill="#FF0000" clip-path="url(#ic)"/>
<circle cx="311.67" cy="481.4" r="2.4" fill="#FF0000" clip-path="url(#ic)"/>
<circle cx="314.33" cy="481.4" r="2.4" fill="#FF0000" clip-path="url(#ic)"/>
<circle cx="317.00" cy="481.4" r="2.4" fill="#FF0000" clip-path="url(#ic)"/>
<circle cx="319.67" cy="481.4" r="2.4" fill="#FF0000" clip-path="url(#ic)"/>
<circle cx="322.33" cy="481.4" r="2.4" fill="#FF0000" clip-path="url(#ic)"/>
<circle cx="343.67" cy="481.4" r="2.4" fill="#FF0000" clip-path="url(#ic)"/>
<circle cx="346.33" cy="481.4" r="2.4" fill="#FF0000" clip-path="url(#ic)"/>
<circle cx="349.00" cy="481.4" r="2.4" fill="#FF0000" clip-path="url(#ic)"/>
<circle cx="351.67" cy="481.4" r="2.4" fill="#FF0000" clip-path="url(#ic)"/>
<circle cx="354.33" cy="481.4" r="2.4" fill="#FF0000" clip-path="url(#ic)"/>
<circle cx="373.00" cy="481.4" r="2.4" fill="#FF0000" clip-path="url(#ic)"/>
<circle cx="375.67" cy="481.4" r="2.4" fill="#FF0000" clip-path="url(#ic)"/>
<circle cx="378.33" cy="481.4" r="2.4" fill="#FF0000" clip-path="url(#ic)"/>
<circle cx="381.00" cy="481.4" r="2.4" fill="#FF0000" clip-path="url(#ic)"/>
<circle cx="383.67" cy="481.4" r="2.4" fill="#FF0000" clip-path="url(#ic)"/>
<circle cx="386.33" cy="481.4" r="2.4" fill="#FF0000" clip-path="url(#ic)"/>
<circle cx="389.00" cy="481.4" r="2.4" fill="#FF0000" clip-path="url(#ic)"/>
<circle cx="402.33" cy="481.4" r="2.4" fill="#FF0000" clip-path="url(#ic)"/>
<circle cx="405.00" cy="481.4" r="2.4" fill="#FF0000" clip-path="url(#ic)"/>
<circle cx="423.67" cy="481.4" r="2.4" fill="#FF0000" clip-path="url(#ic)"/>
<circle cx="426.33" cy="481.4" r="2.4" fill="#FF0000" clip-path="url(#ic)"/>
<circle cx="429.00" cy="481.4" r="2.4" fill="#FF0000" clip-path="url(#ic)"/>
<circle cx="431.67" cy="481.4" r="2.4" fill="#FF0000" clip-path="url(#ic)"/>
<circle cx="434.33" cy="481.4" r="2.4" fill="#FF0000" clip-path="url(#ic)"/>
<circle cx="437.00" cy="481.4" r="2.4" fill="#FF0000" clip-path="url(#ic)"/>
<circle cx="439.67" cy="481.4" r="2.4" fill="#FF0000" clip-path="url(#ic)"/>
<circle cx="463.67" cy="481.4" r="2.4" fill="#FF0000" clip-path="url(#ic)"/>
<circle cx="466.33" cy="481.4" r="2.4" fill="#FF0000" clip-path="url(#ic)"/>
<circle cx="469.00" cy="481.4" r="2.4" fill="#FF0000" clip-path="url(#ic)"/>
<circle cx="471.67" cy="481.4" r="2.4" fill="#FF0000" clip-path="url(#ic)"/>
<circle cx="495.67" cy="481.4" r="2.4" fill="#FF0000" clip-path="url(#ic)"/>
<circle cx="498.33" cy="481.4" r="2.4" fill="#FF0000" clip-path="url(#ic)"/>
<circle cx="501.00" cy="481.4" r="2.4" fill="#FF0000" clip-path="url(#ic)"/>
<circle cx="503.67" cy="481.4" r="2.4" fill="#FF0000" clip-path="url(#ic)"/>
<circle cx="506.33" cy="481.4" r="2.4" fill="#FF0000" clip-path="url(#ic)"/>
<circle cx="519.67" cy="481.4" r="2.4" fill="#FF0000" clip-path="url(#ic)"/>
<circle cx="522.33" cy="481.4" r="2.4" fill="#FF0000" clip-path="url(#ic)"/>
<circle cx="551.67" cy="481.4" r="2.4" fill="#FF0000" clip-path="url(#ic)"/>
<circle cx="554.33" cy="481.4" r="2.4" fill="#FF0000" clip-path="url(#ic)"/>
<circle cx="589.00" cy="481.4" r="2.4" fill="#FF0000" clip-path="url(#ic)"/>
<circle cx="591.67" cy="481.4" r="2.4" fill="#FF0000" clip-path="url(#ic)"/>
<circle cx="594.33" cy="481.4" r="2.4" fill="#FF0000" clip-path="url(#ic)"/>
<circle cx="597.00" cy="481.4" r="2.4" fill="#FF0000" clip-path="url(#ic)"/>
<circle cx="599.67" cy="481.4" r="2.4" fill="#FF0000" clip-path="url(#ic)"/>
<circle cx="602.33" cy="481.4" r="2.4" fill="#FF0000" clip-path="url(#ic)"/>
<circle cx="605.00" cy="481.4" r="2.4" fill="#FF0000" clip-path="url(#ic)"/>
<circle cx="607.67" cy="481.4" r="2.4" fill="#FF0000" clip-path="url(#ic)"/>
<circle cx="637.00" cy="481.4" r="2.4" fill="#FF0000" clip-path="url(#ic)"/>
<circle cx="639.67" cy="481.4" r="2.4" fill="#FF0000" clip-path="url(#ic)"/>
<circle cx="642.33" cy="481.4" r="2.4" fill="#FF0000" clip-path="url(#ic)"/>
<circle cx="645.00" cy="481.4" r="2.4" fill="#FF0000" clip-path="url(#ic)"/>
<circle cx="647.67" cy="481.4" r="2.4" fill="#FF0000" clip-path="url(#ic)"/>
<circle cx="650.33" cy="481.4" r="2.4" fill="#FF0000" clip-path="url(#ic)"/>
<circle cx="663.67" cy="481.4" r="2.4" fill="#FF0000" clip-path="url(#ic)"/>
<circle cx="666.33" cy="481.4" r="2.4" fill="#FF0000" clip-path="url(#ic)"/>
<circle cx="669.00" cy="481.4" r="2.4" fill="#FF0000" clip-path="url(#ic)"/>
<circle cx="671.67" cy="481.4" r="2.4" fill="#FF0000" clip-path="url(#ic)"/>
<circle cx="695.67" cy="481.4" r="2.4" fill="#FF0000" clip-path="url(#ic)"/>
<circle cx="698.33" cy="481.4" r="2.4" fill="#FF0000" clip-path="url(#ic)"/>
<circle cx="701.00" cy="481.4" r="2.4" fill="#FF0000" clip-path="url(#ic)"/>
<circle cx="717.00" cy="481.4" r="2.4" fill="#FF0000" clip-path="url(#ic)"/>
<circle cx="741.00" cy="481.4" r="2.4" fill="#FF0000" clip-path="url(#ic)"/>
<circle cx="743.67" cy="481.4" r="2.4" fill="#FF0000" clip-path="url(#ic)"/>
<circle cx="746.33" cy="481.4" r="2.4" fill="#FF0000" clip-path="url(#ic)"/>
<circle cx="749.00" cy="481.4" r="2.4" fill="#FF0000" clip-path="url(#ic)"/>
<circle cx="751.67" cy="481.4" r="2.4" fill="#FF0000" clip-path="url(#ic)"/>
<circle cx="754.33" cy="481.4" r="2.4" fill="#FF0000" clip-path="url(#ic)"/>
<circle cx="757.00" cy="481.4" r="2.4" fill="#FF0000" clip-path="url(#ic)"/>
</g>
</svg>
</body></html>
